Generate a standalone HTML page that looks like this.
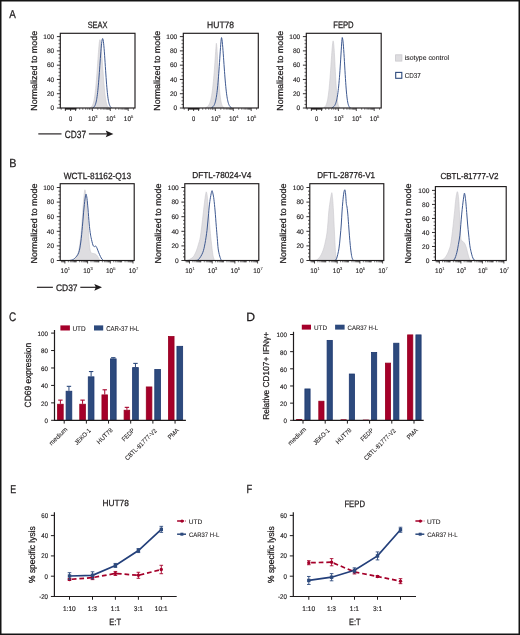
<!DOCTYPE html>
<html><head><meta charset="utf-8"><title>Figure</title>
<style>html,body{margin:0;padding:0;background:#fff;width:520px;height:635px;overflow:hidden}svg{display:block;will-change:transform}text{font-family:"Liberation Sans",sans-serif;text-rendering:geometricPrecision;stroke:#1e1b1c;stroke-width:0.25px}.lt{stroke-width:0.08px}.tk{stroke-width:0.14px}</style>
</head><body>
<svg width="520" height="635" viewBox="0 0 520 635">
<rect x="0" y="0" width="520" height="635" fill="#ffffff"/>
<g font-family='"Liberation Sans", sans-serif' fill="#1e1b1c">
<text x="9.2" y="17.9" font-size="11.45" textLength="6.57" lengthAdjust="spacingAndGlyphs">A</text>
<text x="9.34" y="167.2" font-size="11.74" textLength="7.17" lengthAdjust="spacingAndGlyphs">B</text>
<text x="9.1" y="320.68" font-size="12.39" textLength="7.22" lengthAdjust="spacingAndGlyphs">C</text>
<text x="246.32" y="320.6" font-size="12.03" textLength="8.81" lengthAdjust="spacingAndGlyphs">D</text>
<text x="10.29" y="492.8" font-size="11.45" textLength="5.93" lengthAdjust="spacingAndGlyphs">E</text>
<text x="246.55" y="492.8" font-size="11.74" textLength="5.74" lengthAdjust="spacingAndGlyphs">F</text>
<text x="87.63" y="27.66" font-size="9.15" textLength="19.83" lengthAdjust="spacingAndGlyphs">SEAX</text>
<text x="207.12" y="27.66" font-size="9.23" textLength="26.99" lengthAdjust="spacingAndGlyphs">HUT78</text>
<text x="333.19" y="27.75" font-size="9.42" textLength="20.48" lengthAdjust="spacingAndGlyphs">FEPD</text>
<rect x="64.9" y="108" width="11.6" height="1.6" fill="#1e1b1c"/>
<line x1="56.9" y1="108" x2="60.3" y2="108" stroke="#1e1b1c" stroke-width="0.9"/>
<text x="50.57" y="110.3" font-size="6.6" textLength="3.67" lengthAdjust="spacingAndGlyphs" class="tk">0</text>
<line x1="58.5" y1="104.43" x2="60.3" y2="104.43" stroke="#1e1b1c" stroke-width="0.7"/>
<line x1="58.5" y1="100.86" x2="60.3" y2="100.86" stroke="#1e1b1c" stroke-width="0.7"/>
<line x1="58.5" y1="97.29" x2="60.3" y2="97.29" stroke="#1e1b1c" stroke-width="0.7"/>
<line x1="56.9" y1="93.72" x2="60.3" y2="93.72" stroke="#1e1b1c" stroke-width="0.9"/>
<text x="46.94" y="96.02" font-size="6.6" textLength="7.34" lengthAdjust="spacingAndGlyphs" class="tk">20</text>
<line x1="58.5" y1="90.15" x2="60.3" y2="90.15" stroke="#1e1b1c" stroke-width="0.7"/>
<line x1="58.5" y1="86.58" x2="60.3" y2="86.58" stroke="#1e1b1c" stroke-width="0.7"/>
<line x1="58.5" y1="83.01" x2="60.3" y2="83.01" stroke="#1e1b1c" stroke-width="0.7"/>
<line x1="56.9" y1="79.44" x2="60.3" y2="79.44" stroke="#1e1b1c" stroke-width="0.9"/>
<text x="46.94" y="81.74" font-size="6.6" textLength="7.34" lengthAdjust="spacingAndGlyphs" class="tk">40</text>
<line x1="58.5" y1="75.87" x2="60.3" y2="75.87" stroke="#1e1b1c" stroke-width="0.7"/>
<line x1="58.5" y1="72.3" x2="60.3" y2="72.3" stroke="#1e1b1c" stroke-width="0.7"/>
<line x1="58.5" y1="68.73" x2="60.3" y2="68.73" stroke="#1e1b1c" stroke-width="0.7"/>
<line x1="56.9" y1="65.16" x2="60.3" y2="65.16" stroke="#1e1b1c" stroke-width="0.9"/>
<text x="46.94" y="67.46" font-size="6.6" textLength="7.34" lengthAdjust="spacingAndGlyphs" class="tk">60</text>
<line x1="58.5" y1="61.59" x2="60.3" y2="61.59" stroke="#1e1b1c" stroke-width="0.7"/>
<line x1="58.5" y1="58.02" x2="60.3" y2="58.02" stroke="#1e1b1c" stroke-width="0.7"/>
<line x1="58.5" y1="54.45" x2="60.3" y2="54.45" stroke="#1e1b1c" stroke-width="0.7"/>
<line x1="56.9" y1="50.88" x2="60.3" y2="50.88" stroke="#1e1b1c" stroke-width="0.9"/>
<text x="46.94" y="53.18" font-size="6.6" textLength="7.34" lengthAdjust="spacingAndGlyphs" class="tk">80</text>
<line x1="58.5" y1="47.31" x2="60.3" y2="47.31" stroke="#1e1b1c" stroke-width="0.7"/>
<line x1="58.5" y1="43.74" x2="60.3" y2="43.74" stroke="#1e1b1c" stroke-width="0.7"/>
<line x1="58.5" y1="40.17" x2="60.3" y2="40.17" stroke="#1e1b1c" stroke-width="0.7"/>
<line x1="56.9" y1="36.6" x2="60.3" y2="36.6" stroke="#1e1b1c" stroke-width="0.9"/>
<text x="43.24" y="38.9" font-size="6.6" textLength="11.01" lengthAdjust="spacingAndGlyphs" class="tk">100</text>
<line x1="70.6" y1="108" x2="70.6" y2="111" stroke="#1e1b1c" stroke-width="0.8"/>
<line x1="92.4" y1="108" x2="92.4" y2="111" stroke="#1e1b1c" stroke-width="0.8"/>
<line x1="110.3" y1="108" x2="110.3" y2="111" stroke="#1e1b1c" stroke-width="0.8"/>
<line x1="128.2" y1="108" x2="128.2" y2="111" stroke="#1e1b1c" stroke-width="0.8"/>
<line x1="65.4" y1="108" x2="65.4" y2="111" stroke="#1e1b1c" stroke-width="0.8"/>
<line x1="75.6" y1="108" x2="75.6" y2="111" stroke="#1e1b1c" stroke-width="0.8"/>
<line x1="97.79" y1="108" x2="97.79" y2="109.8" stroke="#1e1b1c" stroke-width="0.6"/>
<line x1="115.69" y1="108" x2="115.69" y2="109.8" stroke="#1e1b1c" stroke-width="0.6"/>
<line x1="133.59" y1="108" x2="133.59" y2="109.8" stroke="#1e1b1c" stroke-width="0.6"/>
<line x1="100.94" y1="108" x2="100.94" y2="109.8" stroke="#1e1b1c" stroke-width="0.6"/>
<line x1="118.84" y1="108" x2="118.84" y2="109.8" stroke="#1e1b1c" stroke-width="0.6"/>
<line x1="103.18" y1="108" x2="103.18" y2="109.8" stroke="#1e1b1c" stroke-width="0.6"/>
<line x1="121.08" y1="108" x2="121.08" y2="109.8" stroke="#1e1b1c" stroke-width="0.6"/>
<line x1="104.91" y1="108" x2="104.91" y2="109.8" stroke="#1e1b1c" stroke-width="0.6"/>
<line x1="122.81" y1="108" x2="122.81" y2="109.8" stroke="#1e1b1c" stroke-width="0.6"/>
<line x1="106.33" y1="108" x2="106.33" y2="109.8" stroke="#1e1b1c" stroke-width="0.6"/>
<line x1="124.23" y1="108" x2="124.23" y2="109.8" stroke="#1e1b1c" stroke-width="0.6"/>
<line x1="107.53" y1="108" x2="107.53" y2="109.8" stroke="#1e1b1c" stroke-width="0.6"/>
<line x1="125.43" y1="108" x2="125.43" y2="109.8" stroke="#1e1b1c" stroke-width="0.6"/>
<line x1="108.57" y1="108" x2="108.57" y2="109.8" stroke="#1e1b1c" stroke-width="0.6"/>
<line x1="126.47" y1="108" x2="126.47" y2="109.8" stroke="#1e1b1c" stroke-width="0.6"/>
<line x1="109.48" y1="108" x2="109.48" y2="109.8" stroke="#1e1b1c" stroke-width="0.6"/>
<line x1="127.38" y1="108" x2="127.38" y2="109.8" stroke="#1e1b1c" stroke-width="0.6"/>
<line x1="79.7" y1="108" x2="79.7" y2="109.8" stroke="#1e1b1c" stroke-width="0.6"/>
<line x1="82.8" y1="108" x2="82.8" y2="109.8" stroke="#1e1b1c" stroke-width="0.6"/>
<line x1="85.7" y1="108" x2="85.7" y2="109.8" stroke="#1e1b1c" stroke-width="0.6"/>
<line x1="87.8" y1="108" x2="87.8" y2="109.8" stroke="#1e1b1c" stroke-width="0.6"/>
<line x1="89.5" y1="108" x2="89.5" y2="109.8" stroke="#1e1b1c" stroke-width="0.6"/>
<line x1="91" y1="108" x2="91" y2="109.8" stroke="#1e1b1c" stroke-width="0.6"/>
<line x1="61.2" y1="108" x2="61.2" y2="109.8" stroke="#1e1b1c" stroke-width="0.6"/>
<text x="68.98" y="120.9" font-size="6.8" textLength="3.22" lengthAdjust="spacingAndGlyphs" class="tk">0</text>
<text x="88.06" y="120.9" font-size="6.7" textLength="7.23" lengthAdjust="spacingAndGlyphs" class="tk">10</text>
<text x="95.3" y="117.8" font-size="4.1" class="lt">3</text>
<text x="105.96" y="120.9" font-size="6.7" textLength="7.23" lengthAdjust="spacingAndGlyphs" class="tk">10</text>
<text x="113.2" y="117.8" font-size="4.1" class="lt">4</text>
<text x="123.86" y="120.9" font-size="6.7" textLength="7.23" lengthAdjust="spacingAndGlyphs" class="tk">10</text>
<text x="131.1" y="117.8" font-size="4.1" class="lt">5</text>
<text x="36.61" y="110.76" font-size="8.78" textLength="79.95" lengthAdjust="spacingAndGlyphs" transform="rotate(-90 36.61 110.76)">Normalized to mode</text>
<rect x="187.9" y="108" width="11.6" height="1.6" fill="#1e1b1c"/>
<line x1="179.9" y1="108" x2="183.3" y2="108" stroke="#1e1b1c" stroke-width="0.9"/>
<text x="173.57" y="110.3" font-size="6.6" textLength="3.67" lengthAdjust="spacingAndGlyphs" class="tk">0</text>
<line x1="181.5" y1="104.43" x2="183.3" y2="104.43" stroke="#1e1b1c" stroke-width="0.7"/>
<line x1="181.5" y1="100.86" x2="183.3" y2="100.86" stroke="#1e1b1c" stroke-width="0.7"/>
<line x1="181.5" y1="97.29" x2="183.3" y2="97.29" stroke="#1e1b1c" stroke-width="0.7"/>
<line x1="179.9" y1="93.72" x2="183.3" y2="93.72" stroke="#1e1b1c" stroke-width="0.9"/>
<text x="169.94" y="96.02" font-size="6.6" textLength="7.34" lengthAdjust="spacingAndGlyphs" class="tk">20</text>
<line x1="181.5" y1="90.15" x2="183.3" y2="90.15" stroke="#1e1b1c" stroke-width="0.7"/>
<line x1="181.5" y1="86.58" x2="183.3" y2="86.58" stroke="#1e1b1c" stroke-width="0.7"/>
<line x1="181.5" y1="83.01" x2="183.3" y2="83.01" stroke="#1e1b1c" stroke-width="0.7"/>
<line x1="179.9" y1="79.44" x2="183.3" y2="79.44" stroke="#1e1b1c" stroke-width="0.9"/>
<text x="169.94" y="81.74" font-size="6.6" textLength="7.34" lengthAdjust="spacingAndGlyphs" class="tk">40</text>
<line x1="181.5" y1="75.87" x2="183.3" y2="75.87" stroke="#1e1b1c" stroke-width="0.7"/>
<line x1="181.5" y1="72.3" x2="183.3" y2="72.3" stroke="#1e1b1c" stroke-width="0.7"/>
<line x1="181.5" y1="68.73" x2="183.3" y2="68.73" stroke="#1e1b1c" stroke-width="0.7"/>
<line x1="179.9" y1="65.16" x2="183.3" y2="65.16" stroke="#1e1b1c" stroke-width="0.9"/>
<text x="169.94" y="67.46" font-size="6.6" textLength="7.34" lengthAdjust="spacingAndGlyphs" class="tk">60</text>
<line x1="181.5" y1="61.59" x2="183.3" y2="61.59" stroke="#1e1b1c" stroke-width="0.7"/>
<line x1="181.5" y1="58.02" x2="183.3" y2="58.02" stroke="#1e1b1c" stroke-width="0.7"/>
<line x1="181.5" y1="54.45" x2="183.3" y2="54.45" stroke="#1e1b1c" stroke-width="0.7"/>
<line x1="179.9" y1="50.88" x2="183.3" y2="50.88" stroke="#1e1b1c" stroke-width="0.9"/>
<text x="169.94" y="53.18" font-size="6.6" textLength="7.34" lengthAdjust="spacingAndGlyphs" class="tk">80</text>
<line x1="181.5" y1="47.31" x2="183.3" y2="47.31" stroke="#1e1b1c" stroke-width="0.7"/>
<line x1="181.5" y1="43.74" x2="183.3" y2="43.74" stroke="#1e1b1c" stroke-width="0.7"/>
<line x1="181.5" y1="40.17" x2="183.3" y2="40.17" stroke="#1e1b1c" stroke-width="0.7"/>
<line x1="179.9" y1="36.6" x2="183.3" y2="36.6" stroke="#1e1b1c" stroke-width="0.9"/>
<text x="166.24" y="38.9" font-size="6.6" textLength="11.01" lengthAdjust="spacingAndGlyphs" class="tk">100</text>
<line x1="193.6" y1="108" x2="193.6" y2="111" stroke="#1e1b1c" stroke-width="0.8"/>
<line x1="215.4" y1="108" x2="215.4" y2="111" stroke="#1e1b1c" stroke-width="0.8"/>
<line x1="233.3" y1="108" x2="233.3" y2="111" stroke="#1e1b1c" stroke-width="0.8"/>
<line x1="251.2" y1="108" x2="251.2" y2="111" stroke="#1e1b1c" stroke-width="0.8"/>
<line x1="188.4" y1="108" x2="188.4" y2="111" stroke="#1e1b1c" stroke-width="0.8"/>
<line x1="198.6" y1="108" x2="198.6" y2="111" stroke="#1e1b1c" stroke-width="0.8"/>
<line x1="220.79" y1="108" x2="220.79" y2="109.8" stroke="#1e1b1c" stroke-width="0.6"/>
<line x1="238.69" y1="108" x2="238.69" y2="109.8" stroke="#1e1b1c" stroke-width="0.6"/>
<line x1="256.59" y1="108" x2="256.59" y2="109.8" stroke="#1e1b1c" stroke-width="0.6"/>
<line x1="223.94" y1="108" x2="223.94" y2="109.8" stroke="#1e1b1c" stroke-width="0.6"/>
<line x1="241.84" y1="108" x2="241.84" y2="109.8" stroke="#1e1b1c" stroke-width="0.6"/>
<line x1="226.18" y1="108" x2="226.18" y2="109.8" stroke="#1e1b1c" stroke-width="0.6"/>
<line x1="244.08" y1="108" x2="244.08" y2="109.8" stroke="#1e1b1c" stroke-width="0.6"/>
<line x1="227.91" y1="108" x2="227.91" y2="109.8" stroke="#1e1b1c" stroke-width="0.6"/>
<line x1="245.81" y1="108" x2="245.81" y2="109.8" stroke="#1e1b1c" stroke-width="0.6"/>
<line x1="229.33" y1="108" x2="229.33" y2="109.8" stroke="#1e1b1c" stroke-width="0.6"/>
<line x1="247.23" y1="108" x2="247.23" y2="109.8" stroke="#1e1b1c" stroke-width="0.6"/>
<line x1="230.53" y1="108" x2="230.53" y2="109.8" stroke="#1e1b1c" stroke-width="0.6"/>
<line x1="248.43" y1="108" x2="248.43" y2="109.8" stroke="#1e1b1c" stroke-width="0.6"/>
<line x1="231.57" y1="108" x2="231.57" y2="109.8" stroke="#1e1b1c" stroke-width="0.6"/>
<line x1="249.47" y1="108" x2="249.47" y2="109.8" stroke="#1e1b1c" stroke-width="0.6"/>
<line x1="232.48" y1="108" x2="232.48" y2="109.8" stroke="#1e1b1c" stroke-width="0.6"/>
<line x1="250.38" y1="108" x2="250.38" y2="109.8" stroke="#1e1b1c" stroke-width="0.6"/>
<line x1="202.7" y1="108" x2="202.7" y2="109.8" stroke="#1e1b1c" stroke-width="0.6"/>
<line x1="205.8" y1="108" x2="205.8" y2="109.8" stroke="#1e1b1c" stroke-width="0.6"/>
<line x1="208.7" y1="108" x2="208.7" y2="109.8" stroke="#1e1b1c" stroke-width="0.6"/>
<line x1="210.8" y1="108" x2="210.8" y2="109.8" stroke="#1e1b1c" stroke-width="0.6"/>
<line x1="212.5" y1="108" x2="212.5" y2="109.8" stroke="#1e1b1c" stroke-width="0.6"/>
<line x1="214" y1="108" x2="214" y2="109.8" stroke="#1e1b1c" stroke-width="0.6"/>
<line x1="184.2" y1="108" x2="184.2" y2="109.8" stroke="#1e1b1c" stroke-width="0.6"/>
<text x="191.98" y="120.9" font-size="6.8" textLength="3.22" lengthAdjust="spacingAndGlyphs" class="tk">0</text>
<text x="211.06" y="120.9" font-size="6.7" textLength="7.23" lengthAdjust="spacingAndGlyphs" class="tk">10</text>
<text x="218.3" y="117.8" font-size="4.1" class="lt">3</text>
<text x="228.96" y="120.9" font-size="6.7" textLength="7.23" lengthAdjust="spacingAndGlyphs" class="tk">10</text>
<text x="236.2" y="117.8" font-size="4.1" class="lt">4</text>
<text x="246.86" y="120.9" font-size="6.7" textLength="7.23" lengthAdjust="spacingAndGlyphs" class="tk">10</text>
<text x="254.1" y="117.8" font-size="4.1" class="lt">5</text>
<text x="159.61" y="110.76" font-size="8.78" textLength="79.95" lengthAdjust="spacingAndGlyphs" transform="rotate(-90 159.61 110.76)">Normalized to mode</text>
<rect x="310.9" y="108" width="11.6" height="1.6" fill="#1e1b1c"/>
<line x1="302.9" y1="108" x2="306.3" y2="108" stroke="#1e1b1c" stroke-width="0.9"/>
<text x="296.57" y="110.3" font-size="6.6" textLength="3.67" lengthAdjust="spacingAndGlyphs" class="tk">0</text>
<line x1="304.5" y1="104.43" x2="306.3" y2="104.43" stroke="#1e1b1c" stroke-width="0.7"/>
<line x1="304.5" y1="100.86" x2="306.3" y2="100.86" stroke="#1e1b1c" stroke-width="0.7"/>
<line x1="304.5" y1="97.29" x2="306.3" y2="97.29" stroke="#1e1b1c" stroke-width="0.7"/>
<line x1="302.9" y1="93.72" x2="306.3" y2="93.72" stroke="#1e1b1c" stroke-width="0.9"/>
<text x="292.94" y="96.02" font-size="6.6" textLength="7.34" lengthAdjust="spacingAndGlyphs" class="tk">20</text>
<line x1="304.5" y1="90.15" x2="306.3" y2="90.15" stroke="#1e1b1c" stroke-width="0.7"/>
<line x1="304.5" y1="86.58" x2="306.3" y2="86.58" stroke="#1e1b1c" stroke-width="0.7"/>
<line x1="304.5" y1="83.01" x2="306.3" y2="83.01" stroke="#1e1b1c" stroke-width="0.7"/>
<line x1="302.9" y1="79.44" x2="306.3" y2="79.44" stroke="#1e1b1c" stroke-width="0.9"/>
<text x="292.94" y="81.74" font-size="6.6" textLength="7.34" lengthAdjust="spacingAndGlyphs" class="tk">40</text>
<line x1="304.5" y1="75.87" x2="306.3" y2="75.87" stroke="#1e1b1c" stroke-width="0.7"/>
<line x1="304.5" y1="72.3" x2="306.3" y2="72.3" stroke="#1e1b1c" stroke-width="0.7"/>
<line x1="304.5" y1="68.73" x2="306.3" y2="68.73" stroke="#1e1b1c" stroke-width="0.7"/>
<line x1="302.9" y1="65.16" x2="306.3" y2="65.16" stroke="#1e1b1c" stroke-width="0.9"/>
<text x="292.94" y="67.46" font-size="6.6" textLength="7.34" lengthAdjust="spacingAndGlyphs" class="tk">60</text>
<line x1="304.5" y1="61.59" x2="306.3" y2="61.59" stroke="#1e1b1c" stroke-width="0.7"/>
<line x1="304.5" y1="58.02" x2="306.3" y2="58.02" stroke="#1e1b1c" stroke-width="0.7"/>
<line x1="304.5" y1="54.45" x2="306.3" y2="54.45" stroke="#1e1b1c" stroke-width="0.7"/>
<line x1="302.9" y1="50.88" x2="306.3" y2="50.88" stroke="#1e1b1c" stroke-width="0.9"/>
<text x="292.94" y="53.18" font-size="6.6" textLength="7.34" lengthAdjust="spacingAndGlyphs" class="tk">80</text>
<line x1="304.5" y1="47.31" x2="306.3" y2="47.31" stroke="#1e1b1c" stroke-width="0.7"/>
<line x1="304.5" y1="43.74" x2="306.3" y2="43.74" stroke="#1e1b1c" stroke-width="0.7"/>
<line x1="304.5" y1="40.17" x2="306.3" y2="40.17" stroke="#1e1b1c" stroke-width="0.7"/>
<line x1="302.9" y1="36.6" x2="306.3" y2="36.6" stroke="#1e1b1c" stroke-width="0.9"/>
<text x="289.24" y="38.9" font-size="6.6" textLength="11.01" lengthAdjust="spacingAndGlyphs" class="tk">100</text>
<line x1="316.6" y1="108" x2="316.6" y2="111" stroke="#1e1b1c" stroke-width="0.8"/>
<line x1="338.4" y1="108" x2="338.4" y2="111" stroke="#1e1b1c" stroke-width="0.8"/>
<line x1="356.3" y1="108" x2="356.3" y2="111" stroke="#1e1b1c" stroke-width="0.8"/>
<line x1="374.2" y1="108" x2="374.2" y2="111" stroke="#1e1b1c" stroke-width="0.8"/>
<line x1="311.4" y1="108" x2="311.4" y2="111" stroke="#1e1b1c" stroke-width="0.8"/>
<line x1="321.6" y1="108" x2="321.6" y2="111" stroke="#1e1b1c" stroke-width="0.8"/>
<line x1="343.79" y1="108" x2="343.79" y2="109.8" stroke="#1e1b1c" stroke-width="0.6"/>
<line x1="361.69" y1="108" x2="361.69" y2="109.8" stroke="#1e1b1c" stroke-width="0.6"/>
<line x1="379.59" y1="108" x2="379.59" y2="109.8" stroke="#1e1b1c" stroke-width="0.6"/>
<line x1="346.94" y1="108" x2="346.94" y2="109.8" stroke="#1e1b1c" stroke-width="0.6"/>
<line x1="364.84" y1="108" x2="364.84" y2="109.8" stroke="#1e1b1c" stroke-width="0.6"/>
<line x1="349.18" y1="108" x2="349.18" y2="109.8" stroke="#1e1b1c" stroke-width="0.6"/>
<line x1="367.08" y1="108" x2="367.08" y2="109.8" stroke="#1e1b1c" stroke-width="0.6"/>
<line x1="350.91" y1="108" x2="350.91" y2="109.8" stroke="#1e1b1c" stroke-width="0.6"/>
<line x1="368.81" y1="108" x2="368.81" y2="109.8" stroke="#1e1b1c" stroke-width="0.6"/>
<line x1="352.33" y1="108" x2="352.33" y2="109.8" stroke="#1e1b1c" stroke-width="0.6"/>
<line x1="370.23" y1="108" x2="370.23" y2="109.8" stroke="#1e1b1c" stroke-width="0.6"/>
<line x1="353.53" y1="108" x2="353.53" y2="109.8" stroke="#1e1b1c" stroke-width="0.6"/>
<line x1="371.43" y1="108" x2="371.43" y2="109.8" stroke="#1e1b1c" stroke-width="0.6"/>
<line x1="354.57" y1="108" x2="354.57" y2="109.8" stroke="#1e1b1c" stroke-width="0.6"/>
<line x1="372.47" y1="108" x2="372.47" y2="109.8" stroke="#1e1b1c" stroke-width="0.6"/>
<line x1="355.48" y1="108" x2="355.48" y2="109.8" stroke="#1e1b1c" stroke-width="0.6"/>
<line x1="373.38" y1="108" x2="373.38" y2="109.8" stroke="#1e1b1c" stroke-width="0.6"/>
<line x1="325.7" y1="108" x2="325.7" y2="109.8" stroke="#1e1b1c" stroke-width="0.6"/>
<line x1="328.8" y1="108" x2="328.8" y2="109.8" stroke="#1e1b1c" stroke-width="0.6"/>
<line x1="331.7" y1="108" x2="331.7" y2="109.8" stroke="#1e1b1c" stroke-width="0.6"/>
<line x1="333.8" y1="108" x2="333.8" y2="109.8" stroke="#1e1b1c" stroke-width="0.6"/>
<line x1="335.5" y1="108" x2="335.5" y2="109.8" stroke="#1e1b1c" stroke-width="0.6"/>
<line x1="337" y1="108" x2="337" y2="109.8" stroke="#1e1b1c" stroke-width="0.6"/>
<line x1="307.2" y1="108" x2="307.2" y2="109.8" stroke="#1e1b1c" stroke-width="0.6"/>
<text x="314.98" y="120.9" font-size="6.8" textLength="3.22" lengthAdjust="spacingAndGlyphs" class="tk">0</text>
<text x="334.06" y="120.9" font-size="6.7" textLength="7.23" lengthAdjust="spacingAndGlyphs" class="tk">10</text>
<text x="341.3" y="117.8" font-size="4.1" class="lt">3</text>
<text x="351.96" y="120.9" font-size="6.7" textLength="7.23" lengthAdjust="spacingAndGlyphs" class="tk">10</text>
<text x="359.2" y="117.8" font-size="4.1" class="lt">4</text>
<text x="369.86" y="120.9" font-size="6.7" textLength="7.23" lengthAdjust="spacingAndGlyphs" class="tk">10</text>
<text x="377.1" y="117.8" font-size="4.1" class="lt">5</text>
<text x="282.61" y="110.76" font-size="8.78" textLength="79.95" lengthAdjust="spacingAndGlyphs" transform="rotate(-90 282.61 110.76)">Normalized to mode</text>
<path d="M90.3,108 C90.4,107.87 90.76,107.39 90.9,107.23 C91.04,107.07 91.07,107.12 91.15,107.05 C91.23,106.98 91.32,106.91 91.4,106.83 C91.48,106.75 91.57,106.67 91.65,106.57 C91.73,106.48 91.82,106.38 91.9,106.26 C91.98,106.15 92.07,106.03 92.15,105.89 C92.23,105.76 92.32,105.62 92.4,105.46 C92.48,105.3 92.57,105.13 92.65,104.94 C92.73,104.76 92.82,104.56 92.9,104.34 C92.98,104.12 93.07,103.89 93.15,103.64 C93.23,103.38 93.32,103.11 93.4,102.82 C93.48,102.53 93.57,102.22 93.65,101.89 C93.73,101.55 93.82,101.19 93.9,100.81 C93.98,100.43 94.07,100.02 94.15,99.59 C94.23,99.15 94.32,98.69 94.4,98.2 C94.48,97.71 94.57,97.19 94.65,96.64 C94.73,96.09 94.82,95.51 94.9,94.9 C94.98,94.29 95.07,93.64 95.15,92.96 C95.23,92.28 95.32,91.57 95.4,90.82 C95.48,90.08 95.57,89.3 95.65,88.48 C95.73,87.67 95.82,86.82 95.9,85.93 C95.98,85.05 96.07,84.13 96.15,83.18 C96.23,82.23 96.32,81.25 96.4,80.24 C96.48,79.23 96.57,78.18 96.65,77.12 C96.73,76.05 96.82,74.95 96.9,73.83 C96.98,72.72 97.07,71.57 97.15,70.42 C97.23,69.26 97.32,68.08 97.4,66.9 C97.48,65.72 97.57,64.52 97.65,63.33 C97.73,62.14 97.82,60.93 97.9,59.75 C97.98,58.56 98.07,57.37 98.15,56.21 C98.23,55.06 98.32,53.9 98.4,52.8 C98.48,51.69 98.57,50.6 98.65,49.57 C98.73,48.54 98.82,47.53 98.9,46.61 C98.98,45.68 99.07,44.8 99.15,44.01 C99.23,43.23 99.32,42.49 99.4,41.89 C99.48,41.28 99.57,40.73 99.65,40.36 C99.73,39.99 99.82,39.73 99.9,39.67 C99.98,39.61 100.07,39.78 100.15,39.98 C100.23,40.18 100.32,40.48 100.4,40.85 C100.48,41.23 100.57,41.71 100.65,42.25 C100.73,42.8 100.82,43.44 100.9,44.13 C100.98,44.83 101.07,45.61 101.15,46.44 C101.23,47.28 101.32,48.18 101.4,49.13 C101.48,50.07 101.57,51.08 101.65,52.12 C101.73,53.16 101.82,54.26 101.9,55.37 C101.98,56.48 102.07,57.64 102.15,58.8 C102.23,59.96 102.32,61.16 102.4,62.35 C102.48,63.54 102.57,64.76 102.65,65.96 C102.73,67.16 102.82,68.38 102.9,69.57 C102.98,70.77 103.07,71.96 103.15,73.13 C103.23,74.3 103.32,75.46 103.4,76.59 C103.48,77.73 103.57,78.84 103.65,79.92 C103.73,81 103.82,82.06 103.9,83.08 C103.98,84.1 104.07,85.09 104.15,86.04 C104.23,86.99 104.32,87.91 104.4,88.79 C104.48,89.67 104.57,90.51 104.65,91.32 C104.73,92.12 104.82,92.89 104.9,93.62 C104.98,94.35 105.07,95.04 105.15,95.69 C105.23,96.34 105.32,96.96 105.4,97.54 C105.48,98.12 105.57,98.66 105.65,99.17 C105.73,99.69 105.82,100.16 105.9,100.61 C105.98,101.05 106.07,101.46 106.15,101.85 C106.23,102.24 106.32,102.59 106.4,102.92 C106.48,103.25 106.57,103.55 106.65,103.84 C106.73,104.12 106.82,104.37 106.9,104.61 C106.98,104.85 107.07,105.06 107.15,105.26 C107.23,105.46 107.32,105.64 107.4,105.8 C107.48,105.96 107.57,106.11 107.65,106.25 C107.73,106.38 107.82,106.5 107.9,106.61 C107.98,106.72 108.07,106.82 108.15,106.91 C108.23,107 108.32,107.08 108.4,107.15 C108.48,107.22 108.51,107.2 108.65,107.34 C108.79,107.48 109.15,107.89 109.25,108 L109.25,108 L90.3,108 Z" fill="#dedde0" stroke="#c9c8cc" stroke-width="0.6"/>
<path d="M93,108 C93.1,107.87 93.46,107.41 93.6,107.25 C93.74,107.09 93.77,107.12 93.85,107.05 C93.93,106.98 94.02,106.9 94.1,106.81 C94.18,106.72 94.27,106.62 94.35,106.51 C94.43,106.41 94.52,106.29 94.6,106.16 C94.68,106.03 94.77,105.89 94.85,105.73 C94.93,105.57 95.02,105.4 95.1,105.22 C95.18,105.03 95.27,104.83 95.35,104.61 C95.43,104.39 95.52,104.15 95.6,103.89 C95.68,103.63 95.77,103.36 95.85,103.05 C95.93,102.75 96.02,102.43 96.1,102.08 C96.18,101.73 96.27,101.35 96.35,100.95 C96.43,100.55 96.52,100.12 96.6,99.66 C96.68,99.2 96.77,98.71 96.85,98.19 C96.93,97.67 97.02,97.12 97.1,96.53 C97.18,95.95 97.27,95.33 97.35,94.68 C97.43,94.02 97.52,93.34 97.6,92.61 C97.68,91.89 97.77,91.13 97.85,90.34 C97.93,89.55 98.02,88.72 98.1,87.85 C98.18,86.99 98.27,86.09 98.35,85.16 C98.43,84.23 98.52,83.26 98.6,82.27 C98.68,81.27 98.77,80.24 98.85,79.19 C98.93,78.14 99.02,77.06 99.1,75.95 C99.18,74.85 99.27,73.72 99.35,72.58 C99.43,71.44 99.52,70.27 99.6,69.1 C99.68,67.93 99.77,66.74 99.85,65.56 C99.93,64.38 100.02,63.18 100.1,62.01 C100.18,60.83 100.27,59.64 100.35,58.49 C100.43,57.33 100.52,56.17 100.6,55.06 C100.68,53.94 100.77,52.84 100.85,51.78 C100.93,50.72 101.02,49.69 101.1,48.72 C101.18,47.75 101.27,46.81 101.35,45.94 C101.43,45.07 101.52,44.25 101.6,43.5 C101.68,42.76 101.77,42.08 101.85,41.48 C101.93,40.88 102.02,40.35 102.1,39.93 C102.18,39.5 102.27,39.15 102.35,38.91 C102.43,38.68 102.52,38.54 102.6,38.53 C102.68,38.52 102.77,38.64 102.85,38.85 C102.93,39.06 103.02,39.38 103.1,39.78 C103.18,40.19 103.27,40.69 103.35,41.28 C103.43,41.86 103.52,42.54 103.6,43.28 C103.68,44.03 103.77,44.86 103.85,45.75 C103.93,46.64 104.02,47.61 104.1,48.62 C104.18,49.63 104.27,50.71 104.35,51.82 C104.43,52.93 104.52,54.09 104.6,55.28 C104.68,56.46 104.77,57.69 104.85,58.92 C104.93,60.16 105.02,61.42 105.1,62.68 C105.18,63.94 105.27,65.22 105.35,66.49 C105.43,67.76 105.52,69.03 105.6,70.28 C105.68,71.53 105.77,72.78 105.85,74 C105.93,75.22 106.02,76.42 106.1,77.59 C106.18,78.76 106.27,79.91 106.35,81.02 C106.43,82.13 106.52,83.21 106.6,84.25 C106.68,85.29 106.77,86.3 106.85,87.26 C106.93,88.22 107.02,89.15 107.1,90.03 C107.18,90.91 107.27,91.75 107.35,92.55 C107.43,93.35 107.52,94.1 107.6,94.82 C107.68,95.54 107.77,96.21 107.85,96.84 C107.93,97.48 108.02,98.07 108.1,98.63 C108.18,99.19 108.27,99.71 108.35,100.19 C108.43,100.68 108.52,101.13 108.6,101.55 C108.68,101.96 108.77,102.35 108.85,102.7 C108.93,103.06 109.02,103.39 109.1,103.69 C109.18,103.99 109.27,104.26 109.35,104.52 C109.43,104.77 109.52,105 109.6,105.21 C109.68,105.42 109.77,105.61 109.85,105.78 C109.93,105.95 110.02,106.11 110.1,106.25 C110.18,106.39 110.27,106.51 110.35,106.63 C110.43,106.74 110.52,106.84 110.6,106.93 C110.68,107.02 110.71,107 110.85,107.18 C110.99,107.35 111.35,107.86 111.45,108" fill="none" stroke="#34508a" stroke-width="0.95" stroke-linejoin="round"/>
<path d="M205.55,108 C205.65,107.89 206.01,107.47 206.15,107.34 C206.29,107.22 206.32,107.28 206.4,107.24 C206.48,107.2 206.57,107.16 206.65,107.12 C206.73,107.07 206.82,107.03 206.9,106.98 C206.98,106.93 207.07,106.87 207.15,106.82 C207.23,106.76 207.32,106.7 207.4,106.63 C207.48,106.57 207.57,106.5 207.65,106.42 C207.73,106.35 207.82,106.27 207.9,106.18 C207.98,106.1 208.07,106.01 208.15,105.91 C208.23,105.81 208.32,105.71 208.4,105.6 C208.48,105.49 208.57,105.37 208.65,105.25 C208.73,105.12 208.82,104.99 208.9,104.85 C208.98,104.7 209.07,104.55 209.15,104.39 C209.23,104.23 209.32,104.06 209.4,103.88 C209.48,103.7 209.57,103.51 209.65,103.31 C209.73,103.1 209.82,102.89 209.9,102.66 C209.98,102.43 210.07,102.19 210.15,101.93 C210.23,101.67 210.32,101.4 210.4,101.11 C210.48,100.83 210.57,100.52 210.65,100.2 C210.73,99.88 210.82,99.55 210.9,99.19 C210.98,98.83 211.07,98.46 211.15,98.06 C211.23,97.66 211.32,97.25 211.4,96.81 C211.48,96.37 211.57,95.91 211.65,95.43 C211.73,94.94 211.82,94.44 211.9,93.9 C211.98,93.37 212.07,92.81 212.15,92.23 C212.23,91.64 212.32,91.03 212.4,90.39 C212.48,89.75 212.57,89.08 212.65,88.39 C212.73,87.69 212.82,86.96 212.9,86.21 C212.98,85.45 213.07,84.66 213.15,83.85 C213.23,83.03 213.32,82.18 213.4,81.3 C213.48,80.42 213.57,79.51 213.65,78.57 C213.73,77.63 213.82,76.66 213.9,75.65 C213.98,74.65 214.07,73.62 214.15,72.56 C214.23,71.51 214.32,70.42 214.4,69.31 C214.48,68.2 214.57,67.06 214.65,65.91 C214.73,64.76 214.82,63.58 214.9,62.39 C214.98,61.21 215.07,60 215.15,58.8 C215.23,57.61 215.32,56.39 215.4,55.2 C215.48,54.01 215.57,52.8 215.65,51.65 C215.73,50.5 215.82,49.35 215.9,48.3 C215.98,47.24 216.07,46.16 216.15,45.33 C216.23,44.5 216.32,43.36 216.4,43.31 C216.48,43.26 216.57,44.22 216.65,45.02 C216.73,45.82 216.82,46.96 216.9,48.11 C216.98,49.27 217.07,50.6 217.15,51.96 C217.23,53.31 217.32,54.77 217.4,56.23 C217.48,57.69 217.57,59.21 217.65,60.71 C217.73,62.22 217.82,63.75 217.9,65.25 C217.98,66.75 218.07,68.25 218.15,69.71 C218.23,71.17 218.32,72.61 218.4,74 C218.48,75.39 218.57,76.75 218.65,78.06 C218.73,79.36 218.82,80.62 218.9,81.83 C218.98,83.04 219.07,84.2 219.15,85.3 C219.23,86.4 219.32,87.45 219.4,88.44 C219.48,89.44 219.57,90.38 219.65,91.26 C219.73,92.15 219.82,92.99 219.9,93.77 C219.98,94.56 220.07,95.29 220.15,95.98 C220.23,96.67 220.32,97.31 220.4,97.91 C220.48,98.5 220.57,99.06 220.65,99.57 C220.73,100.09 220.82,100.56 220.9,101.01 C220.98,101.45 221.07,101.85 221.15,102.23 C221.23,102.6 221.32,102.94 221.4,103.26 C221.48,103.58 221.57,103.86 221.65,104.13 C221.73,104.39 221.82,104.63 221.9,104.86 C221.98,105.08 222.07,105.27 222.15,105.46 C222.23,105.64 222.32,105.8 222.4,105.96 C222.48,106.11 222.57,106.24 222.65,106.36 C222.73,106.49 222.82,106.6 222.9,106.7 C222.98,106.8 223.07,106.89 223.15,106.97 C223.23,107.05 223.26,107.01 223.4,107.18 C223.54,107.36 223.9,107.86 224,108 L224,108 L205.55,108 Z" fill="#dedde0" stroke="#c9c8cc" stroke-width="0.6"/>
<path d="M211.4,108 C211.5,107.89 211.86,107.48 212,107.35 C212.14,107.22 212.17,107.27 212.25,107.22 C212.33,107.17 212.42,107.12 212.5,107.06 C212.58,107.01 212.67,106.95 212.75,106.88 C212.83,106.81 212.92,106.74 213,106.66 C213.08,106.58 213.17,106.5 213.25,106.4 C213.33,106.31 213.42,106.21 213.5,106.1 C213.58,105.99 213.67,105.88 213.75,105.75 C213.83,105.62 213.92,105.49 214,105.34 C214.08,105.19 214.17,105.03 214.25,104.86 C214.33,104.69 214.42,104.51 214.5,104.31 C214.58,104.11 214.67,103.9 214.75,103.68 C214.83,103.45 214.92,103.21 215,102.95 C215.08,102.69 215.17,102.41 215.25,102.12 C215.33,101.82 215.42,101.51 215.5,101.17 C215.58,100.83 215.67,100.48 215.75,100.1 C215.83,99.71 215.92,99.31 216,98.88 C216.08,98.45 216.17,98 216.25,97.52 C216.33,97.03 216.42,96.53 216.5,95.99 C216.58,95.45 216.67,94.88 216.75,94.28 C216.83,93.69 216.92,93.06 217,92.4 C217.08,91.73 217.17,91.04 217.25,90.31 C217.33,89.58 217.42,88.82 217.5,88.02 C217.58,87.23 217.67,86.4 217.75,85.53 C217.83,84.66 217.92,83.76 218,82.82 C218.08,81.89 218.17,80.91 218.25,79.91 C218.33,78.9 218.42,77.86 218.5,76.79 C218.58,75.72 218.67,74.61 218.75,73.48 C218.83,72.35 218.92,71.18 219,70 C219.08,68.81 219.17,67.6 219.25,66.37 C219.33,65.14 219.42,63.88 219.5,62.62 C219.58,61.37 219.67,60.08 219.75,58.81 C219.83,57.54 219.92,56.25 220,54.99 C220.08,53.72 220.17,52.45 220.25,51.22 C220.33,49.99 220.42,48.76 220.5,47.6 C220.58,46.43 220.67,45.29 220.75,44.23 C220.83,43.17 220.92,42.15 221,41.26 C221.08,40.37 221.17,39.51 221.25,38.9 C221.33,38.29 221.42,37.7 221.5,37.6 C221.58,37.5 221.67,37.91 221.75,38.27 C221.83,38.63 221.92,39.17 222,39.76 C222.08,40.35 222.17,41.07 222.25,41.84 C222.33,42.61 222.42,43.47 222.5,44.38 C222.58,45.29 222.67,46.27 222.75,47.28 C222.83,48.3 222.92,49.37 223,50.46 C223.08,51.55 223.17,52.69 223.25,53.84 C223.33,54.98 223.42,56.16 223.5,57.34 C223.58,58.52 223.67,59.71 223.75,60.9 C223.83,62.09 223.92,63.29 224,64.47 C224.08,65.66 224.17,66.84 224.25,68 C224.33,69.17 224.42,70.32 224.5,71.45 C224.58,72.58 224.67,73.69 224.75,74.78 C224.83,75.87 224.92,76.93 225,77.97 C225.08,79 225.17,80.01 225.25,80.99 C225.33,81.97 225.42,82.91 225.5,83.83 C225.58,84.74 225.67,85.63 225.75,86.48 C225.83,87.33 225.92,88.14 226,88.93 C226.08,89.71 226.17,90.46 226.25,91.18 C226.33,91.9 226.42,92.58 226.5,93.24 C226.58,93.89 226.67,94.51 226.75,95.1 C226.83,95.69 226.92,96.25 227,96.79 C227.08,97.32 227.17,97.82 227.25,98.29 C227.33,98.77 227.42,99.21 227.5,99.63 C227.58,100.05 227.67,100.45 227.75,100.82 C227.83,101.19 227.92,101.54 228,101.87 C228.08,102.19 228.17,102.5 228.25,102.78 C228.33,103.07 228.42,103.33 228.5,103.58 C228.58,103.83 228.67,104.06 228.75,104.27 C228.83,104.49 228.92,104.68 229,104.87 C229.08,105.05 229.17,105.22 229.25,105.38 C229.33,105.54 229.42,105.68 229.5,105.82 C229.58,105.95 229.67,106.07 229.75,106.19 C229.83,106.3 229.92,106.41 230,106.5 C230.08,106.6 230.17,106.69 230.25,106.77 C230.33,106.85 230.42,106.92 230.5,106.99 C230.58,107.06 230.67,107.12 230.75,107.17 C230.83,107.23 230.86,107.19 231,107.33 C231.14,107.47 231.5,107.89 231.6,108" fill="none" stroke="#34508a" stroke-width="0.95" stroke-linejoin="round"/>
<path d="M323.75,108 C323.85,107.87 324.21,107.37 324.35,107.21 C324.49,107.05 324.52,107.09 324.6,107.03 C324.68,106.96 324.77,106.89 324.85,106.81 C324.93,106.73 325.02,106.65 325.1,106.55 C325.18,106.46 325.27,106.36 325.35,106.24 C325.43,106.13 325.52,106.01 325.6,105.88 C325.68,105.74 325.77,105.6 325.85,105.44 C325.93,105.29 326.02,105.12 326.1,104.93 C326.18,104.75 326.27,104.55 326.35,104.34 C326.43,104.12 326.52,103.89 326.6,103.65 C326.68,103.4 326.77,103.13 326.85,102.84 C326.93,102.55 327.02,102.25 327.1,101.91 C327.18,101.58 327.27,101.23 327.35,100.85 C327.43,100.47 327.52,100.07 327.6,99.64 C327.68,99.21 327.77,98.76 327.85,98.27 C327.93,97.78 328.02,97.27 328.1,96.72 C328.18,96.17 328.27,95.6 328.35,94.99 C328.43,94.37 328.52,93.73 328.6,93.05 C328.68,92.38 328.77,91.66 328.85,90.92 C328.93,90.17 329.02,89.39 329.1,88.57 C329.18,87.75 329.27,86.9 329.35,86.01 C329.43,85.12 329.52,84.2 329.6,83.24 C329.68,82.28 329.77,81.29 329.85,80.26 C329.93,79.24 330.02,78.18 330.1,77.1 C330.18,76.01 330.27,74.9 330.35,73.76 C330.43,72.62 330.52,71.46 330.6,70.28 C330.68,69.1 330.77,67.9 330.85,66.69 C330.93,65.48 331.02,64.25 331.1,63.03 C331.18,61.81 331.27,60.58 331.35,59.37 C331.43,58.16 331.52,56.94 331.6,55.76 C331.68,54.58 331.77,53.41 331.85,52.28 C331.93,51.16 332.02,50.06 332.1,49.03 C332.18,48 332.27,47 332.35,46.1 C332.43,45.2 332.52,44.35 332.6,43.63 C332.68,42.91 332.77,42.24 332.85,41.78 C332.93,41.33 333.02,40.94 333.1,40.88 C333.18,40.83 333.27,41.08 333.35,41.43 C333.43,41.79 333.52,42.33 333.6,43 C333.68,43.67 333.77,44.52 333.85,45.48 C333.93,46.44 334.02,47.55 334.1,48.75 C334.18,49.95 334.27,51.28 334.35,52.66 C334.43,54.05 334.52,55.54 334.6,57.07 C334.68,58.59 334.77,60.19 334.85,61.79 C334.93,63.39 335.02,65.04 335.1,66.67 C335.18,68.3 335.27,69.95 335.35,71.56 C335.43,73.17 335.52,74.77 335.6,76.32 C335.68,77.87 335.77,79.39 335.85,80.85 C335.93,82.31 336.02,83.72 336.1,85.06 C336.18,86.39 336.27,87.67 336.35,88.88 C336.43,90.08 336.52,91.22 336.6,92.29 C336.68,93.35 336.77,94.34 336.85,95.27 C336.93,96.19 337.02,97.04 337.1,97.82 C337.18,98.61 337.27,99.32 337.35,99.98 C337.43,100.64 337.52,101.22 337.6,101.76 C337.68,102.3 337.77,102.78 337.85,103.22 C337.93,103.66 338.02,104.04 338.1,104.38 C338.18,104.73 338.27,105.03 338.35,105.3 C338.43,105.58 338.52,105.81 338.6,106.02 C338.68,106.23 338.77,106.4 338.85,106.56 C338.93,106.72 339.02,106.85 339.1,106.97 C339.18,107.09 339.21,107.1 339.35,107.27 C339.49,107.44 339.85,107.88 339.95,108 L339.95,108 L323.75,108 Z" fill="#dedde0" stroke="#c9c8cc" stroke-width="0.6"/>
<path d="M332.1,108 C332.2,107.88 332.56,107.41 332.7,107.27 C332.84,107.12 332.87,107.18 332.95,107.14 C333.03,107.09 333.12,107.04 333.2,106.98 C333.28,106.93 333.37,106.87 333.45,106.81 C333.53,106.74 333.62,106.68 333.7,106.6 C333.78,106.53 333.87,106.45 333.95,106.36 C334.03,106.28 334.12,106.19 334.2,106.09 C334.28,105.99 334.37,105.89 334.45,105.77 C334.53,105.66 334.62,105.54 334.7,105.41 C334.78,105.28 334.87,105.14 334.95,104.99 C335.03,104.84 335.12,104.68 335.2,104.51 C335.28,104.34 335.37,104.16 335.45,103.96 C335.53,103.76 335.62,103.56 335.7,103.33 C335.78,103.11 335.87,102.88 335.95,102.62 C336.03,102.37 336.12,102.1 336.2,101.81 C336.28,101.53 336.37,101.23 336.45,100.9 C336.53,100.58 336.62,100.24 336.7,99.87 C336.78,99.51 336.87,99.12 336.95,98.71 C337.03,98.3 337.12,97.87 337.2,97.41 C337.28,96.95 337.37,96.47 337.45,95.96 C337.53,95.45 337.62,94.91 337.7,94.34 C337.78,93.77 337.87,93.18 337.95,92.55 C338.03,91.92 338.12,91.26 338.2,90.56 C338.28,89.87 338.37,89.14 338.45,88.38 C338.53,87.61 338.62,86.81 338.7,85.98 C338.78,85.14 338.87,84.27 338.95,83.36 C339.03,82.46 339.12,81.51 339.2,80.53 C339.28,79.54 339.37,78.52 339.45,77.46 C339.53,76.4 339.62,75.31 339.7,74.17 C339.78,73.04 339.87,71.87 339.95,70.67 C340.03,69.47 340.12,68.23 340.2,66.97 C340.28,65.71 340.37,64.41 340.45,63.09 C340.53,61.78 340.62,60.43 340.7,59.08 C340.78,57.73 340.87,56.35 340.95,54.98 C341.03,53.61 341.12,52.23 341.2,50.87 C341.28,49.52 341.37,48.15 341.45,46.85 C341.53,45.55 341.62,44.25 341.7,43.07 C341.78,41.88 341.87,40.68 341.95,39.77 C342.03,38.86 342.12,37.9 342.2,37.6 C342.28,37.3 342.37,37.73 342.45,37.97 C342.53,38.21 342.62,38.58 342.7,39.06 C342.78,39.54 342.87,40.14 342.95,40.83 C343.03,41.53 343.12,42.34 343.2,43.23 C343.28,44.12 343.37,45.11 343.45,46.17 C343.53,47.23 343.62,48.39 343.7,49.59 C343.78,50.79 343.87,52.07 343.95,53.37 C344.03,54.68 344.12,56.05 344.2,57.43 C344.28,58.81 344.37,60.24 344.45,61.66 C344.53,63.09 344.62,64.54 344.7,65.97 C344.78,67.4 344.87,68.85 344.95,70.26 C345.03,71.68 345.12,73.09 345.2,74.46 C345.28,75.83 345.37,77.18 345.45,78.49 C345.53,79.8 345.62,81.07 345.7,82.3 C345.78,83.52 345.87,84.71 345.95,85.84 C346.03,86.97 346.12,88.06 346.2,89.09 C346.28,90.12 346.37,91.1 346.45,92.02 C346.53,92.95 346.62,93.82 346.7,94.64 C346.78,95.45 346.87,96.22 346.95,96.93 C347.03,97.65 347.12,98.31 347.2,98.93 C347.28,99.55 347.37,100.11 347.45,100.64 C347.53,101.17 347.62,101.64 347.7,102.09 C347.78,102.53 347.87,102.93 347.95,103.3 C348.03,103.67 348.12,104 348.2,104.3 C348.28,104.6 348.37,104.87 348.45,105.11 C348.53,105.36 348.62,105.58 348.7,105.77 C348.78,105.97 348.87,106.14 348.95,106.3 C349.03,106.46 349.12,106.59 349.2,106.71 C349.28,106.84 349.37,106.94 349.45,107.04 C349.53,107.13 349.56,107.13 349.7,107.29 C349.84,107.45 350.2,107.88 350.3,108" fill="none" stroke="#34508a" stroke-width="0.95" stroke-linejoin="round"/>
<rect x="60.3" y="33.3" width="74.7" height="74.7" fill="none" stroke="#1e1b1c" stroke-width="1.15"/>
<rect x="183.3" y="33.3" width="75" height="74.7" fill="none" stroke="#1e1b1c" stroke-width="1.15"/>
<rect x="306.3" y="33.3" width="74.9" height="74.7" fill="none" stroke="#1e1b1c" stroke-width="1.15"/>
<rect x="395.6" y="54.8" width="6.3" height="6.3" fill="#dedde0" stroke="#c9c8cc" stroke-width="0.8"/>
<text x="404.72" y="59.8" font-size="7" textLength="44.35" lengthAdjust="spacingAndGlyphs" class="lt">isotype control</text>
<rect x="395.7" y="72.4" width="6.1" height="5.9" fill="none" stroke="#2d4a7d" stroke-width="1.1"/>
<text x="404.68" y="77.63" font-size="7.18" textLength="16.21" lengthAdjust="spacingAndGlyphs" class="lt">CD37</text>
<line x1="38.3" y1="133.9" x2="61.5" y2="133.9" stroke="#1e1b1c" stroke-width="1.15"/>
<text x="64.78" y="137.5" font-size="10.42" textLength="21.41" lengthAdjust="spacingAndGlyphs">CD37</text>
<line x1="88.9" y1="133.9" x2="107.4" y2="133.9" stroke="#1e1b1c" stroke-width="1.15"/>
<path d="M113.4,133.9 L105.7,130.5 L107.2,133.9 L105.7,137.3 Z" fill="#1e1b1c"/>
<text x="63.72" y="178.5" font-size="9" textLength="67.36" lengthAdjust="spacingAndGlyphs">WCTL-81162-Q13</text>
<text x="192.24" y="178.41" font-size="8.73" textLength="59.11" lengthAdjust="spacingAndGlyphs">DFTL-78024-V4</text>
<text x="317.26" y="178.41" font-size="8.73" textLength="57.75" lengthAdjust="spacingAndGlyphs">DFTL-28776-V1</text>
<text x="440.4" y="178.51" font-size="8.73" textLength="58.17" lengthAdjust="spacingAndGlyphs">CBTL-81777-V2</text>
<line x1="56.8" y1="260.5" x2="60.2" y2="260.5" stroke="#1e1b1c" stroke-width="0.9"/>
<text x="50.47" y="262.8" font-size="6.6" textLength="3.67" lengthAdjust="spacingAndGlyphs" class="tk">0</text>
<line x1="58.4" y1="256.85" x2="60.2" y2="256.85" stroke="#1e1b1c" stroke-width="0.7"/>
<line x1="58.4" y1="253.2" x2="60.2" y2="253.2" stroke="#1e1b1c" stroke-width="0.7"/>
<line x1="58.4" y1="249.55" x2="60.2" y2="249.55" stroke="#1e1b1c" stroke-width="0.7"/>
<line x1="56.8" y1="245.9" x2="60.2" y2="245.9" stroke="#1e1b1c" stroke-width="0.9"/>
<text x="46.84" y="248.2" font-size="6.6" textLength="7.34" lengthAdjust="spacingAndGlyphs" class="tk">20</text>
<line x1="58.4" y1="242.25" x2="60.2" y2="242.25" stroke="#1e1b1c" stroke-width="0.7"/>
<line x1="58.4" y1="238.6" x2="60.2" y2="238.6" stroke="#1e1b1c" stroke-width="0.7"/>
<line x1="58.4" y1="234.95" x2="60.2" y2="234.95" stroke="#1e1b1c" stroke-width="0.7"/>
<line x1="56.8" y1="231.3" x2="60.2" y2="231.3" stroke="#1e1b1c" stroke-width="0.9"/>
<text x="46.84" y="233.6" font-size="6.6" textLength="7.34" lengthAdjust="spacingAndGlyphs" class="tk">40</text>
<line x1="58.4" y1="227.65" x2="60.2" y2="227.65" stroke="#1e1b1c" stroke-width="0.7"/>
<line x1="58.4" y1="224" x2="60.2" y2="224" stroke="#1e1b1c" stroke-width="0.7"/>
<line x1="58.4" y1="220.35" x2="60.2" y2="220.35" stroke="#1e1b1c" stroke-width="0.7"/>
<line x1="56.8" y1="216.7" x2="60.2" y2="216.7" stroke="#1e1b1c" stroke-width="0.9"/>
<text x="46.84" y="219" font-size="6.6" textLength="7.34" lengthAdjust="spacingAndGlyphs" class="tk">60</text>
<line x1="58.4" y1="213.05" x2="60.2" y2="213.05" stroke="#1e1b1c" stroke-width="0.7"/>
<line x1="58.4" y1="209.4" x2="60.2" y2="209.4" stroke="#1e1b1c" stroke-width="0.7"/>
<line x1="58.4" y1="205.75" x2="60.2" y2="205.75" stroke="#1e1b1c" stroke-width="0.7"/>
<line x1="56.8" y1="202.1" x2="60.2" y2="202.1" stroke="#1e1b1c" stroke-width="0.9"/>
<text x="46.84" y="204.4" font-size="6.6" textLength="7.34" lengthAdjust="spacingAndGlyphs" class="tk">80</text>
<line x1="58.4" y1="198.45" x2="60.2" y2="198.45" stroke="#1e1b1c" stroke-width="0.7"/>
<line x1="58.4" y1="194.8" x2="60.2" y2="194.8" stroke="#1e1b1c" stroke-width="0.7"/>
<line x1="58.4" y1="191.15" x2="60.2" y2="191.15" stroke="#1e1b1c" stroke-width="0.7"/>
<line x1="56.8" y1="187.5" x2="60.2" y2="187.5" stroke="#1e1b1c" stroke-width="0.9"/>
<text x="43.14" y="189.8" font-size="6.6" textLength="11.01" lengthAdjust="spacingAndGlyphs" class="tk">100</text>
<line x1="64.9" y1="260.5" x2="64.9" y2="263.5" stroke="#1e1b1c" stroke-width="0.8"/>
<line x1="87.6" y1="260.5" x2="87.6" y2="263.5" stroke="#1e1b1c" stroke-width="0.8"/>
<line x1="110.3" y1="260.5" x2="110.3" y2="263.5" stroke="#1e1b1c" stroke-width="0.8"/>
<line x1="133" y1="260.5" x2="133" y2="263.5" stroke="#1e1b1c" stroke-width="0.8"/>
<line x1="61.48" y1="260.5" x2="61.48" y2="262.3" stroke="#1e1b1c" stroke-width="0.6"/>
<line x1="62.38" y1="260.5" x2="62.38" y2="262.3" stroke="#1e1b1c" stroke-width="0.6"/>
<line x1="63.14" y1="260.5" x2="63.14" y2="262.3" stroke="#1e1b1c" stroke-width="0.6"/>
<line x1="63.8" y1="260.5" x2="63.8" y2="262.3" stroke="#1e1b1c" stroke-width="0.6"/>
<line x1="64.38" y1="260.5" x2="64.38" y2="262.3" stroke="#1e1b1c" stroke-width="0.6"/>
<line x1="68.32" y1="260.5" x2="68.32" y2="262.3" stroke="#1e1b1c" stroke-width="0.6"/>
<line x1="70.32" y1="260.5" x2="70.32" y2="262.3" stroke="#1e1b1c" stroke-width="0.6"/>
<line x1="71.73" y1="260.5" x2="71.73" y2="262.3" stroke="#1e1b1c" stroke-width="0.6"/>
<line x1="72.83" y1="260.5" x2="72.83" y2="262.3" stroke="#1e1b1c" stroke-width="0.6"/>
<line x1="73.73" y1="260.5" x2="73.73" y2="262.3" stroke="#1e1b1c" stroke-width="0.6"/>
<line x1="74.49" y1="260.5" x2="74.49" y2="262.3" stroke="#1e1b1c" stroke-width="0.6"/>
<line x1="75.15" y1="260.5" x2="75.15" y2="262.3" stroke="#1e1b1c" stroke-width="0.6"/>
<line x1="75.73" y1="260.5" x2="75.73" y2="262.3" stroke="#1e1b1c" stroke-width="0.6"/>
<line x1="76.25" y1="260.5" x2="76.25" y2="262.3" stroke="#1e1b1c" stroke-width="0.6"/>
<line x1="79.67" y1="260.5" x2="79.67" y2="262.3" stroke="#1e1b1c" stroke-width="0.6"/>
<line x1="81.67" y1="260.5" x2="81.67" y2="262.3" stroke="#1e1b1c" stroke-width="0.6"/>
<line x1="83.08" y1="260.5" x2="83.08" y2="262.3" stroke="#1e1b1c" stroke-width="0.6"/>
<line x1="84.18" y1="260.5" x2="84.18" y2="262.3" stroke="#1e1b1c" stroke-width="0.6"/>
<line x1="85.08" y1="260.5" x2="85.08" y2="262.3" stroke="#1e1b1c" stroke-width="0.6"/>
<line x1="85.84" y1="260.5" x2="85.84" y2="262.3" stroke="#1e1b1c" stroke-width="0.6"/>
<line x1="86.5" y1="260.5" x2="86.5" y2="262.3" stroke="#1e1b1c" stroke-width="0.6"/>
<line x1="87.08" y1="260.5" x2="87.08" y2="262.3" stroke="#1e1b1c" stroke-width="0.6"/>
<line x1="91.02" y1="260.5" x2="91.02" y2="262.3" stroke="#1e1b1c" stroke-width="0.6"/>
<line x1="93.02" y1="260.5" x2="93.02" y2="262.3" stroke="#1e1b1c" stroke-width="0.6"/>
<line x1="94.43" y1="260.5" x2="94.43" y2="262.3" stroke="#1e1b1c" stroke-width="0.6"/>
<line x1="95.53" y1="260.5" x2="95.53" y2="262.3" stroke="#1e1b1c" stroke-width="0.6"/>
<line x1="96.43" y1="260.5" x2="96.43" y2="262.3" stroke="#1e1b1c" stroke-width="0.6"/>
<line x1="97.19" y1="260.5" x2="97.19" y2="262.3" stroke="#1e1b1c" stroke-width="0.6"/>
<line x1="97.85" y1="260.5" x2="97.85" y2="262.3" stroke="#1e1b1c" stroke-width="0.6"/>
<line x1="98.43" y1="260.5" x2="98.43" y2="262.3" stroke="#1e1b1c" stroke-width="0.6"/>
<line x1="98.95" y1="260.5" x2="98.95" y2="262.3" stroke="#1e1b1c" stroke-width="0.6"/>
<line x1="102.37" y1="260.5" x2="102.37" y2="262.3" stroke="#1e1b1c" stroke-width="0.6"/>
<line x1="104.37" y1="260.5" x2="104.37" y2="262.3" stroke="#1e1b1c" stroke-width="0.6"/>
<line x1="105.78" y1="260.5" x2="105.78" y2="262.3" stroke="#1e1b1c" stroke-width="0.6"/>
<line x1="106.88" y1="260.5" x2="106.88" y2="262.3" stroke="#1e1b1c" stroke-width="0.6"/>
<line x1="107.78" y1="260.5" x2="107.78" y2="262.3" stroke="#1e1b1c" stroke-width="0.6"/>
<line x1="108.54" y1="260.5" x2="108.54" y2="262.3" stroke="#1e1b1c" stroke-width="0.6"/>
<line x1="109.2" y1="260.5" x2="109.2" y2="262.3" stroke="#1e1b1c" stroke-width="0.6"/>
<line x1="109.78" y1="260.5" x2="109.78" y2="262.3" stroke="#1e1b1c" stroke-width="0.6"/>
<line x1="113.72" y1="260.5" x2="113.72" y2="262.3" stroke="#1e1b1c" stroke-width="0.6"/>
<line x1="115.72" y1="260.5" x2="115.72" y2="262.3" stroke="#1e1b1c" stroke-width="0.6"/>
<line x1="117.13" y1="260.5" x2="117.13" y2="262.3" stroke="#1e1b1c" stroke-width="0.6"/>
<line x1="118.23" y1="260.5" x2="118.23" y2="262.3" stroke="#1e1b1c" stroke-width="0.6"/>
<line x1="119.13" y1="260.5" x2="119.13" y2="262.3" stroke="#1e1b1c" stroke-width="0.6"/>
<line x1="119.89" y1="260.5" x2="119.89" y2="262.3" stroke="#1e1b1c" stroke-width="0.6"/>
<line x1="120.55" y1="260.5" x2="120.55" y2="262.3" stroke="#1e1b1c" stroke-width="0.6"/>
<line x1="121.13" y1="260.5" x2="121.13" y2="262.3" stroke="#1e1b1c" stroke-width="0.6"/>
<line x1="121.65" y1="260.5" x2="121.65" y2="262.3" stroke="#1e1b1c" stroke-width="0.6"/>
<line x1="125.07" y1="260.5" x2="125.07" y2="262.3" stroke="#1e1b1c" stroke-width="0.6"/>
<line x1="127.07" y1="260.5" x2="127.07" y2="262.3" stroke="#1e1b1c" stroke-width="0.6"/>
<line x1="128.48" y1="260.5" x2="128.48" y2="262.3" stroke="#1e1b1c" stroke-width="0.6"/>
<line x1="129.58" y1="260.5" x2="129.58" y2="262.3" stroke="#1e1b1c" stroke-width="0.6"/>
<line x1="130.48" y1="260.5" x2="130.48" y2="262.3" stroke="#1e1b1c" stroke-width="0.6"/>
<line x1="131.24" y1="260.5" x2="131.24" y2="262.3" stroke="#1e1b1c" stroke-width="0.6"/>
<line x1="131.9" y1="260.5" x2="131.9" y2="262.3" stroke="#1e1b1c" stroke-width="0.6"/>
<line x1="132.48" y1="260.5" x2="132.48" y2="262.3" stroke="#1e1b1c" stroke-width="0.6"/>
<text x="60.56" y="273.2" font-size="6.7" textLength="7.23" lengthAdjust="spacingAndGlyphs" class="tk">10</text>
<text x="67.8" y="270.1" font-size="4.1" class="lt">1</text>
<text x="83.26" y="273.2" font-size="6.7" textLength="7.23" lengthAdjust="spacingAndGlyphs" class="tk">10</text>
<text x="90.5" y="270.1" font-size="4.1" class="lt">3</text>
<text x="105.96" y="273.2" font-size="6.7" textLength="7.23" lengthAdjust="spacingAndGlyphs" class="tk">10</text>
<text x="113.2" y="270.1" font-size="4.1" class="lt">5</text>
<text x="128.66" y="273.2" font-size="6.7" textLength="7.23" lengthAdjust="spacingAndGlyphs" class="tk">10</text>
<text x="135.9" y="270.1" font-size="4.1" class="lt">7</text>
<text x="36.51" y="263.46" font-size="8.65" textLength="79.95" lengthAdjust="spacingAndGlyphs" transform="rotate(-90 36.51 263.46)">Normalized to mode</text>
<line x1="181.4" y1="260.5" x2="184.8" y2="260.5" stroke="#1e1b1c" stroke-width="0.9"/>
<text x="175.07" y="262.8" font-size="6.6" textLength="3.67" lengthAdjust="spacingAndGlyphs" class="tk">0</text>
<line x1="183" y1="256.85" x2="184.8" y2="256.85" stroke="#1e1b1c" stroke-width="0.7"/>
<line x1="183" y1="253.2" x2="184.8" y2="253.2" stroke="#1e1b1c" stroke-width="0.7"/>
<line x1="183" y1="249.55" x2="184.8" y2="249.55" stroke="#1e1b1c" stroke-width="0.7"/>
<line x1="181.4" y1="245.9" x2="184.8" y2="245.9" stroke="#1e1b1c" stroke-width="0.9"/>
<text x="171.44" y="248.2" font-size="6.6" textLength="7.34" lengthAdjust="spacingAndGlyphs" class="tk">20</text>
<line x1="183" y1="242.25" x2="184.8" y2="242.25" stroke="#1e1b1c" stroke-width="0.7"/>
<line x1="183" y1="238.6" x2="184.8" y2="238.6" stroke="#1e1b1c" stroke-width="0.7"/>
<line x1="183" y1="234.95" x2="184.8" y2="234.95" stroke="#1e1b1c" stroke-width="0.7"/>
<line x1="181.4" y1="231.3" x2="184.8" y2="231.3" stroke="#1e1b1c" stroke-width="0.9"/>
<text x="171.44" y="233.6" font-size="6.6" textLength="7.34" lengthAdjust="spacingAndGlyphs" class="tk">40</text>
<line x1="183" y1="227.65" x2="184.8" y2="227.65" stroke="#1e1b1c" stroke-width="0.7"/>
<line x1="183" y1="224" x2="184.8" y2="224" stroke="#1e1b1c" stroke-width="0.7"/>
<line x1="183" y1="220.35" x2="184.8" y2="220.35" stroke="#1e1b1c" stroke-width="0.7"/>
<line x1="181.4" y1="216.7" x2="184.8" y2="216.7" stroke="#1e1b1c" stroke-width="0.9"/>
<text x="171.44" y="219" font-size="6.6" textLength="7.34" lengthAdjust="spacingAndGlyphs" class="tk">60</text>
<line x1="183" y1="213.05" x2="184.8" y2="213.05" stroke="#1e1b1c" stroke-width="0.7"/>
<line x1="183" y1="209.4" x2="184.8" y2="209.4" stroke="#1e1b1c" stroke-width="0.7"/>
<line x1="183" y1="205.75" x2="184.8" y2="205.75" stroke="#1e1b1c" stroke-width="0.7"/>
<line x1="181.4" y1="202.1" x2="184.8" y2="202.1" stroke="#1e1b1c" stroke-width="0.9"/>
<text x="171.44" y="204.4" font-size="6.6" textLength="7.34" lengthAdjust="spacingAndGlyphs" class="tk">80</text>
<line x1="183" y1="198.45" x2="184.8" y2="198.45" stroke="#1e1b1c" stroke-width="0.7"/>
<line x1="183" y1="194.8" x2="184.8" y2="194.8" stroke="#1e1b1c" stroke-width="0.7"/>
<line x1="183" y1="191.15" x2="184.8" y2="191.15" stroke="#1e1b1c" stroke-width="0.7"/>
<line x1="181.4" y1="187.5" x2="184.8" y2="187.5" stroke="#1e1b1c" stroke-width="0.9"/>
<text x="167.74" y="189.8" font-size="6.6" textLength="11.01" lengthAdjust="spacingAndGlyphs" class="tk">100</text>
<line x1="189.5" y1="260.5" x2="189.5" y2="263.5" stroke="#1e1b1c" stroke-width="0.8"/>
<line x1="212.2" y1="260.5" x2="212.2" y2="263.5" stroke="#1e1b1c" stroke-width="0.8"/>
<line x1="234.9" y1="260.5" x2="234.9" y2="263.5" stroke="#1e1b1c" stroke-width="0.8"/>
<line x1="257.6" y1="260.5" x2="257.6" y2="263.5" stroke="#1e1b1c" stroke-width="0.8"/>
<line x1="186.08" y1="260.5" x2="186.08" y2="262.3" stroke="#1e1b1c" stroke-width="0.6"/>
<line x1="186.98" y1="260.5" x2="186.98" y2="262.3" stroke="#1e1b1c" stroke-width="0.6"/>
<line x1="187.74" y1="260.5" x2="187.74" y2="262.3" stroke="#1e1b1c" stroke-width="0.6"/>
<line x1="188.4" y1="260.5" x2="188.4" y2="262.3" stroke="#1e1b1c" stroke-width="0.6"/>
<line x1="188.98" y1="260.5" x2="188.98" y2="262.3" stroke="#1e1b1c" stroke-width="0.6"/>
<line x1="192.92" y1="260.5" x2="192.92" y2="262.3" stroke="#1e1b1c" stroke-width="0.6"/>
<line x1="194.92" y1="260.5" x2="194.92" y2="262.3" stroke="#1e1b1c" stroke-width="0.6"/>
<line x1="196.33" y1="260.5" x2="196.33" y2="262.3" stroke="#1e1b1c" stroke-width="0.6"/>
<line x1="197.43" y1="260.5" x2="197.43" y2="262.3" stroke="#1e1b1c" stroke-width="0.6"/>
<line x1="198.33" y1="260.5" x2="198.33" y2="262.3" stroke="#1e1b1c" stroke-width="0.6"/>
<line x1="199.09" y1="260.5" x2="199.09" y2="262.3" stroke="#1e1b1c" stroke-width="0.6"/>
<line x1="199.75" y1="260.5" x2="199.75" y2="262.3" stroke="#1e1b1c" stroke-width="0.6"/>
<line x1="200.33" y1="260.5" x2="200.33" y2="262.3" stroke="#1e1b1c" stroke-width="0.6"/>
<line x1="200.85" y1="260.5" x2="200.85" y2="262.3" stroke="#1e1b1c" stroke-width="0.6"/>
<line x1="204.27" y1="260.5" x2="204.27" y2="262.3" stroke="#1e1b1c" stroke-width="0.6"/>
<line x1="206.27" y1="260.5" x2="206.27" y2="262.3" stroke="#1e1b1c" stroke-width="0.6"/>
<line x1="207.68" y1="260.5" x2="207.68" y2="262.3" stroke="#1e1b1c" stroke-width="0.6"/>
<line x1="208.78" y1="260.5" x2="208.78" y2="262.3" stroke="#1e1b1c" stroke-width="0.6"/>
<line x1="209.68" y1="260.5" x2="209.68" y2="262.3" stroke="#1e1b1c" stroke-width="0.6"/>
<line x1="210.44" y1="260.5" x2="210.44" y2="262.3" stroke="#1e1b1c" stroke-width="0.6"/>
<line x1="211.1" y1="260.5" x2="211.1" y2="262.3" stroke="#1e1b1c" stroke-width="0.6"/>
<line x1="211.68" y1="260.5" x2="211.68" y2="262.3" stroke="#1e1b1c" stroke-width="0.6"/>
<line x1="215.62" y1="260.5" x2="215.62" y2="262.3" stroke="#1e1b1c" stroke-width="0.6"/>
<line x1="217.62" y1="260.5" x2="217.62" y2="262.3" stroke="#1e1b1c" stroke-width="0.6"/>
<line x1="219.03" y1="260.5" x2="219.03" y2="262.3" stroke="#1e1b1c" stroke-width="0.6"/>
<line x1="220.13" y1="260.5" x2="220.13" y2="262.3" stroke="#1e1b1c" stroke-width="0.6"/>
<line x1="221.03" y1="260.5" x2="221.03" y2="262.3" stroke="#1e1b1c" stroke-width="0.6"/>
<line x1="221.79" y1="260.5" x2="221.79" y2="262.3" stroke="#1e1b1c" stroke-width="0.6"/>
<line x1="222.45" y1="260.5" x2="222.45" y2="262.3" stroke="#1e1b1c" stroke-width="0.6"/>
<line x1="223.03" y1="260.5" x2="223.03" y2="262.3" stroke="#1e1b1c" stroke-width="0.6"/>
<line x1="223.55" y1="260.5" x2="223.55" y2="262.3" stroke="#1e1b1c" stroke-width="0.6"/>
<line x1="226.97" y1="260.5" x2="226.97" y2="262.3" stroke="#1e1b1c" stroke-width="0.6"/>
<line x1="228.97" y1="260.5" x2="228.97" y2="262.3" stroke="#1e1b1c" stroke-width="0.6"/>
<line x1="230.38" y1="260.5" x2="230.38" y2="262.3" stroke="#1e1b1c" stroke-width="0.6"/>
<line x1="231.48" y1="260.5" x2="231.48" y2="262.3" stroke="#1e1b1c" stroke-width="0.6"/>
<line x1="232.38" y1="260.5" x2="232.38" y2="262.3" stroke="#1e1b1c" stroke-width="0.6"/>
<line x1="233.14" y1="260.5" x2="233.14" y2="262.3" stroke="#1e1b1c" stroke-width="0.6"/>
<line x1="233.8" y1="260.5" x2="233.8" y2="262.3" stroke="#1e1b1c" stroke-width="0.6"/>
<line x1="234.38" y1="260.5" x2="234.38" y2="262.3" stroke="#1e1b1c" stroke-width="0.6"/>
<line x1="238.32" y1="260.5" x2="238.32" y2="262.3" stroke="#1e1b1c" stroke-width="0.6"/>
<line x1="240.32" y1="260.5" x2="240.32" y2="262.3" stroke="#1e1b1c" stroke-width="0.6"/>
<line x1="241.73" y1="260.5" x2="241.73" y2="262.3" stroke="#1e1b1c" stroke-width="0.6"/>
<line x1="242.83" y1="260.5" x2="242.83" y2="262.3" stroke="#1e1b1c" stroke-width="0.6"/>
<line x1="243.73" y1="260.5" x2="243.73" y2="262.3" stroke="#1e1b1c" stroke-width="0.6"/>
<line x1="244.49" y1="260.5" x2="244.49" y2="262.3" stroke="#1e1b1c" stroke-width="0.6"/>
<line x1="245.15" y1="260.5" x2="245.15" y2="262.3" stroke="#1e1b1c" stroke-width="0.6"/>
<line x1="245.73" y1="260.5" x2="245.73" y2="262.3" stroke="#1e1b1c" stroke-width="0.6"/>
<line x1="246.25" y1="260.5" x2="246.25" y2="262.3" stroke="#1e1b1c" stroke-width="0.6"/>
<line x1="249.67" y1="260.5" x2="249.67" y2="262.3" stroke="#1e1b1c" stroke-width="0.6"/>
<line x1="251.67" y1="260.5" x2="251.67" y2="262.3" stroke="#1e1b1c" stroke-width="0.6"/>
<line x1="253.08" y1="260.5" x2="253.08" y2="262.3" stroke="#1e1b1c" stroke-width="0.6"/>
<line x1="254.18" y1="260.5" x2="254.18" y2="262.3" stroke="#1e1b1c" stroke-width="0.6"/>
<line x1="255.08" y1="260.5" x2="255.08" y2="262.3" stroke="#1e1b1c" stroke-width="0.6"/>
<line x1="255.84" y1="260.5" x2="255.84" y2="262.3" stroke="#1e1b1c" stroke-width="0.6"/>
<line x1="256.5" y1="260.5" x2="256.5" y2="262.3" stroke="#1e1b1c" stroke-width="0.6"/>
<line x1="257.08" y1="260.5" x2="257.08" y2="262.3" stroke="#1e1b1c" stroke-width="0.6"/>
<text x="185.16" y="273.2" font-size="6.7" textLength="7.23" lengthAdjust="spacingAndGlyphs" class="tk">10</text>
<text x="192.4" y="270.1" font-size="4.1" class="lt">1</text>
<text x="207.86" y="273.2" font-size="6.7" textLength="7.23" lengthAdjust="spacingAndGlyphs" class="tk">10</text>
<text x="215.1" y="270.1" font-size="4.1" class="lt">3</text>
<text x="230.56" y="273.2" font-size="6.7" textLength="7.23" lengthAdjust="spacingAndGlyphs" class="tk">10</text>
<text x="237.8" y="270.1" font-size="4.1" class="lt">5</text>
<text x="253.26" y="273.2" font-size="6.7" textLength="7.23" lengthAdjust="spacingAndGlyphs" class="tk">10</text>
<text x="260.5" y="270.1" font-size="4.1" class="lt">7</text>
<text x="161.11" y="263.46" font-size="8.65" textLength="79.95" lengthAdjust="spacingAndGlyphs" transform="rotate(-90 161.11 263.46)">Normalized to mode</text>
<line x1="306.4" y1="260.5" x2="309.8" y2="260.5" stroke="#1e1b1c" stroke-width="0.9"/>
<text x="300.07" y="262.8" font-size="6.6" textLength="3.67" lengthAdjust="spacingAndGlyphs" class="tk">0</text>
<line x1="308" y1="256.85" x2="309.8" y2="256.85" stroke="#1e1b1c" stroke-width="0.7"/>
<line x1="308" y1="253.2" x2="309.8" y2="253.2" stroke="#1e1b1c" stroke-width="0.7"/>
<line x1="308" y1="249.55" x2="309.8" y2="249.55" stroke="#1e1b1c" stroke-width="0.7"/>
<line x1="306.4" y1="245.9" x2="309.8" y2="245.9" stroke="#1e1b1c" stroke-width="0.9"/>
<text x="296.44" y="248.2" font-size="6.6" textLength="7.34" lengthAdjust="spacingAndGlyphs" class="tk">20</text>
<line x1="308" y1="242.25" x2="309.8" y2="242.25" stroke="#1e1b1c" stroke-width="0.7"/>
<line x1="308" y1="238.6" x2="309.8" y2="238.6" stroke="#1e1b1c" stroke-width="0.7"/>
<line x1="308" y1="234.95" x2="309.8" y2="234.95" stroke="#1e1b1c" stroke-width="0.7"/>
<line x1="306.4" y1="231.3" x2="309.8" y2="231.3" stroke="#1e1b1c" stroke-width="0.9"/>
<text x="296.44" y="233.6" font-size="6.6" textLength="7.34" lengthAdjust="spacingAndGlyphs" class="tk">40</text>
<line x1="308" y1="227.65" x2="309.8" y2="227.65" stroke="#1e1b1c" stroke-width="0.7"/>
<line x1="308" y1="224" x2="309.8" y2="224" stroke="#1e1b1c" stroke-width="0.7"/>
<line x1="308" y1="220.35" x2="309.8" y2="220.35" stroke="#1e1b1c" stroke-width="0.7"/>
<line x1="306.4" y1="216.7" x2="309.8" y2="216.7" stroke="#1e1b1c" stroke-width="0.9"/>
<text x="296.44" y="219" font-size="6.6" textLength="7.34" lengthAdjust="spacingAndGlyphs" class="tk">60</text>
<line x1="308" y1="213.05" x2="309.8" y2="213.05" stroke="#1e1b1c" stroke-width="0.7"/>
<line x1="308" y1="209.4" x2="309.8" y2="209.4" stroke="#1e1b1c" stroke-width="0.7"/>
<line x1="308" y1="205.75" x2="309.8" y2="205.75" stroke="#1e1b1c" stroke-width="0.7"/>
<line x1="306.4" y1="202.1" x2="309.8" y2="202.1" stroke="#1e1b1c" stroke-width="0.9"/>
<text x="296.44" y="204.4" font-size="6.6" textLength="7.34" lengthAdjust="spacingAndGlyphs" class="tk">80</text>
<line x1="308" y1="198.45" x2="309.8" y2="198.45" stroke="#1e1b1c" stroke-width="0.7"/>
<line x1="308" y1="194.8" x2="309.8" y2="194.8" stroke="#1e1b1c" stroke-width="0.7"/>
<line x1="308" y1="191.15" x2="309.8" y2="191.15" stroke="#1e1b1c" stroke-width="0.7"/>
<line x1="306.4" y1="187.5" x2="309.8" y2="187.5" stroke="#1e1b1c" stroke-width="0.9"/>
<text x="292.74" y="189.8" font-size="6.6" textLength="11.01" lengthAdjust="spacingAndGlyphs" class="tk">100</text>
<line x1="314.5" y1="260.5" x2="314.5" y2="263.5" stroke="#1e1b1c" stroke-width="0.8"/>
<line x1="337.2" y1="260.5" x2="337.2" y2="263.5" stroke="#1e1b1c" stroke-width="0.8"/>
<line x1="359.9" y1="260.5" x2="359.9" y2="263.5" stroke="#1e1b1c" stroke-width="0.8"/>
<line x1="382.6" y1="260.5" x2="382.6" y2="263.5" stroke="#1e1b1c" stroke-width="0.8"/>
<line x1="311.08" y1="260.5" x2="311.08" y2="262.3" stroke="#1e1b1c" stroke-width="0.6"/>
<line x1="311.98" y1="260.5" x2="311.98" y2="262.3" stroke="#1e1b1c" stroke-width="0.6"/>
<line x1="312.74" y1="260.5" x2="312.74" y2="262.3" stroke="#1e1b1c" stroke-width="0.6"/>
<line x1="313.4" y1="260.5" x2="313.4" y2="262.3" stroke="#1e1b1c" stroke-width="0.6"/>
<line x1="313.98" y1="260.5" x2="313.98" y2="262.3" stroke="#1e1b1c" stroke-width="0.6"/>
<line x1="317.92" y1="260.5" x2="317.92" y2="262.3" stroke="#1e1b1c" stroke-width="0.6"/>
<line x1="319.92" y1="260.5" x2="319.92" y2="262.3" stroke="#1e1b1c" stroke-width="0.6"/>
<line x1="321.33" y1="260.5" x2="321.33" y2="262.3" stroke="#1e1b1c" stroke-width="0.6"/>
<line x1="322.43" y1="260.5" x2="322.43" y2="262.3" stroke="#1e1b1c" stroke-width="0.6"/>
<line x1="323.33" y1="260.5" x2="323.33" y2="262.3" stroke="#1e1b1c" stroke-width="0.6"/>
<line x1="324.09" y1="260.5" x2="324.09" y2="262.3" stroke="#1e1b1c" stroke-width="0.6"/>
<line x1="324.75" y1="260.5" x2="324.75" y2="262.3" stroke="#1e1b1c" stroke-width="0.6"/>
<line x1="325.33" y1="260.5" x2="325.33" y2="262.3" stroke="#1e1b1c" stroke-width="0.6"/>
<line x1="325.85" y1="260.5" x2="325.85" y2="262.3" stroke="#1e1b1c" stroke-width="0.6"/>
<line x1="329.27" y1="260.5" x2="329.27" y2="262.3" stroke="#1e1b1c" stroke-width="0.6"/>
<line x1="331.27" y1="260.5" x2="331.27" y2="262.3" stroke="#1e1b1c" stroke-width="0.6"/>
<line x1="332.68" y1="260.5" x2="332.68" y2="262.3" stroke="#1e1b1c" stroke-width="0.6"/>
<line x1="333.78" y1="260.5" x2="333.78" y2="262.3" stroke="#1e1b1c" stroke-width="0.6"/>
<line x1="334.68" y1="260.5" x2="334.68" y2="262.3" stroke="#1e1b1c" stroke-width="0.6"/>
<line x1="335.44" y1="260.5" x2="335.44" y2="262.3" stroke="#1e1b1c" stroke-width="0.6"/>
<line x1="336.1" y1="260.5" x2="336.1" y2="262.3" stroke="#1e1b1c" stroke-width="0.6"/>
<line x1="336.68" y1="260.5" x2="336.68" y2="262.3" stroke="#1e1b1c" stroke-width="0.6"/>
<line x1="340.62" y1="260.5" x2="340.62" y2="262.3" stroke="#1e1b1c" stroke-width="0.6"/>
<line x1="342.62" y1="260.5" x2="342.62" y2="262.3" stroke="#1e1b1c" stroke-width="0.6"/>
<line x1="344.03" y1="260.5" x2="344.03" y2="262.3" stroke="#1e1b1c" stroke-width="0.6"/>
<line x1="345.13" y1="260.5" x2="345.13" y2="262.3" stroke="#1e1b1c" stroke-width="0.6"/>
<line x1="346.03" y1="260.5" x2="346.03" y2="262.3" stroke="#1e1b1c" stroke-width="0.6"/>
<line x1="346.79" y1="260.5" x2="346.79" y2="262.3" stroke="#1e1b1c" stroke-width="0.6"/>
<line x1="347.45" y1="260.5" x2="347.45" y2="262.3" stroke="#1e1b1c" stroke-width="0.6"/>
<line x1="348.03" y1="260.5" x2="348.03" y2="262.3" stroke="#1e1b1c" stroke-width="0.6"/>
<line x1="348.55" y1="260.5" x2="348.55" y2="262.3" stroke="#1e1b1c" stroke-width="0.6"/>
<line x1="351.97" y1="260.5" x2="351.97" y2="262.3" stroke="#1e1b1c" stroke-width="0.6"/>
<line x1="353.97" y1="260.5" x2="353.97" y2="262.3" stroke="#1e1b1c" stroke-width="0.6"/>
<line x1="355.38" y1="260.5" x2="355.38" y2="262.3" stroke="#1e1b1c" stroke-width="0.6"/>
<line x1="356.48" y1="260.5" x2="356.48" y2="262.3" stroke="#1e1b1c" stroke-width="0.6"/>
<line x1="357.38" y1="260.5" x2="357.38" y2="262.3" stroke="#1e1b1c" stroke-width="0.6"/>
<line x1="358.14" y1="260.5" x2="358.14" y2="262.3" stroke="#1e1b1c" stroke-width="0.6"/>
<line x1="358.8" y1="260.5" x2="358.8" y2="262.3" stroke="#1e1b1c" stroke-width="0.6"/>
<line x1="359.38" y1="260.5" x2="359.38" y2="262.3" stroke="#1e1b1c" stroke-width="0.6"/>
<line x1="363.32" y1="260.5" x2="363.32" y2="262.3" stroke="#1e1b1c" stroke-width="0.6"/>
<line x1="365.32" y1="260.5" x2="365.32" y2="262.3" stroke="#1e1b1c" stroke-width="0.6"/>
<line x1="366.73" y1="260.5" x2="366.73" y2="262.3" stroke="#1e1b1c" stroke-width="0.6"/>
<line x1="367.83" y1="260.5" x2="367.83" y2="262.3" stroke="#1e1b1c" stroke-width="0.6"/>
<line x1="368.73" y1="260.5" x2="368.73" y2="262.3" stroke="#1e1b1c" stroke-width="0.6"/>
<line x1="369.49" y1="260.5" x2="369.49" y2="262.3" stroke="#1e1b1c" stroke-width="0.6"/>
<line x1="370.15" y1="260.5" x2="370.15" y2="262.3" stroke="#1e1b1c" stroke-width="0.6"/>
<line x1="370.73" y1="260.5" x2="370.73" y2="262.3" stroke="#1e1b1c" stroke-width="0.6"/>
<line x1="371.25" y1="260.5" x2="371.25" y2="262.3" stroke="#1e1b1c" stroke-width="0.6"/>
<line x1="374.67" y1="260.5" x2="374.67" y2="262.3" stroke="#1e1b1c" stroke-width="0.6"/>
<line x1="376.67" y1="260.5" x2="376.67" y2="262.3" stroke="#1e1b1c" stroke-width="0.6"/>
<line x1="378.08" y1="260.5" x2="378.08" y2="262.3" stroke="#1e1b1c" stroke-width="0.6"/>
<line x1="379.18" y1="260.5" x2="379.18" y2="262.3" stroke="#1e1b1c" stroke-width="0.6"/>
<line x1="380.08" y1="260.5" x2="380.08" y2="262.3" stroke="#1e1b1c" stroke-width="0.6"/>
<line x1="380.84" y1="260.5" x2="380.84" y2="262.3" stroke="#1e1b1c" stroke-width="0.6"/>
<line x1="381.5" y1="260.5" x2="381.5" y2="262.3" stroke="#1e1b1c" stroke-width="0.6"/>
<line x1="382.08" y1="260.5" x2="382.08" y2="262.3" stroke="#1e1b1c" stroke-width="0.6"/>
<text x="310.16" y="273.2" font-size="6.7" textLength="7.23" lengthAdjust="spacingAndGlyphs" class="tk">10</text>
<text x="317.4" y="270.1" font-size="4.1" class="lt">1</text>
<text x="332.86" y="273.2" font-size="6.7" textLength="7.23" lengthAdjust="spacingAndGlyphs" class="tk">10</text>
<text x="340.1" y="270.1" font-size="4.1" class="lt">3</text>
<text x="355.56" y="273.2" font-size="6.7" textLength="7.23" lengthAdjust="spacingAndGlyphs" class="tk">10</text>
<text x="362.8" y="270.1" font-size="4.1" class="lt">5</text>
<text x="378.26" y="273.2" font-size="6.7" textLength="7.23" lengthAdjust="spacingAndGlyphs" class="tk">10</text>
<text x="385.5" y="270.1" font-size="4.1" class="lt">7</text>
<text x="286.11" y="263.46" font-size="8.65" textLength="79.95" lengthAdjust="spacingAndGlyphs" transform="rotate(-90 286.11 263.46)">Normalized to mode</text>
<line x1="432" y1="260.5" x2="435.4" y2="260.5" stroke="#1e1b1c" stroke-width="0.9"/>
<text x="425.67" y="262.8" font-size="6.6" textLength="3.67" lengthAdjust="spacingAndGlyphs" class="tk">0</text>
<line x1="433.6" y1="257" x2="435.4" y2="257" stroke="#1e1b1c" stroke-width="0.7"/>
<line x1="433.6" y1="253.49" x2="435.4" y2="253.49" stroke="#1e1b1c" stroke-width="0.7"/>
<line x1="433.6" y1="249.99" x2="435.4" y2="249.99" stroke="#1e1b1c" stroke-width="0.7"/>
<line x1="432" y1="246.48" x2="435.4" y2="246.48" stroke="#1e1b1c" stroke-width="0.9"/>
<text x="422.04" y="248.78" font-size="6.6" textLength="7.34" lengthAdjust="spacingAndGlyphs" class="tk">20</text>
<line x1="433.6" y1="242.97" x2="435.4" y2="242.97" stroke="#1e1b1c" stroke-width="0.7"/>
<line x1="433.6" y1="239.47" x2="435.4" y2="239.47" stroke="#1e1b1c" stroke-width="0.7"/>
<line x1="433.6" y1="235.97" x2="435.4" y2="235.97" stroke="#1e1b1c" stroke-width="0.7"/>
<line x1="432" y1="232.46" x2="435.4" y2="232.46" stroke="#1e1b1c" stroke-width="0.9"/>
<text x="422.04" y="234.76" font-size="6.6" textLength="7.34" lengthAdjust="spacingAndGlyphs" class="tk">40</text>
<line x1="433.6" y1="228.96" x2="435.4" y2="228.96" stroke="#1e1b1c" stroke-width="0.7"/>
<line x1="433.6" y1="225.45" x2="435.4" y2="225.45" stroke="#1e1b1c" stroke-width="0.7"/>
<line x1="433.6" y1="221.94" x2="435.4" y2="221.94" stroke="#1e1b1c" stroke-width="0.7"/>
<line x1="432" y1="218.44" x2="435.4" y2="218.44" stroke="#1e1b1c" stroke-width="0.9"/>
<text x="422.04" y="220.74" font-size="6.6" textLength="7.34" lengthAdjust="spacingAndGlyphs" class="tk">60</text>
<line x1="433.6" y1="214.94" x2="435.4" y2="214.94" stroke="#1e1b1c" stroke-width="0.7"/>
<line x1="433.6" y1="211.43" x2="435.4" y2="211.43" stroke="#1e1b1c" stroke-width="0.7"/>
<line x1="433.6" y1="207.93" x2="435.4" y2="207.93" stroke="#1e1b1c" stroke-width="0.7"/>
<line x1="432" y1="204.42" x2="435.4" y2="204.42" stroke="#1e1b1c" stroke-width="0.9"/>
<text x="422.04" y="206.72" font-size="6.6" textLength="7.34" lengthAdjust="spacingAndGlyphs" class="tk">80</text>
<line x1="433.6" y1="200.92" x2="435.4" y2="200.92" stroke="#1e1b1c" stroke-width="0.7"/>
<line x1="433.6" y1="197.41" x2="435.4" y2="197.41" stroke="#1e1b1c" stroke-width="0.7"/>
<line x1="433.6" y1="193.91" x2="435.4" y2="193.91" stroke="#1e1b1c" stroke-width="0.7"/>
<line x1="432" y1="190.4" x2="435.4" y2="190.4" stroke="#1e1b1c" stroke-width="0.9"/>
<text x="418.34" y="192.7" font-size="6.6" textLength="11.01" lengthAdjust="spacingAndGlyphs" class="tk">100</text>
<line x1="439.4" y1="260.5" x2="439.4" y2="263.5" stroke="#1e1b1c" stroke-width="0.8"/>
<line x1="460.9" y1="260.5" x2="460.9" y2="263.5" stroke="#1e1b1c" stroke-width="0.8"/>
<line x1="482.4" y1="260.5" x2="482.4" y2="263.5" stroke="#1e1b1c" stroke-width="0.8"/>
<line x1="503.9" y1="260.5" x2="503.9" y2="263.5" stroke="#1e1b1c" stroke-width="0.8"/>
<line x1="436.16" y1="260.5" x2="436.16" y2="262.3" stroke="#1e1b1c" stroke-width="0.6"/>
<line x1="437.02" y1="260.5" x2="437.02" y2="262.3" stroke="#1e1b1c" stroke-width="0.6"/>
<line x1="437.73" y1="260.5" x2="437.73" y2="262.3" stroke="#1e1b1c" stroke-width="0.6"/>
<line x1="438.36" y1="260.5" x2="438.36" y2="262.3" stroke="#1e1b1c" stroke-width="0.6"/>
<line x1="438.91" y1="260.5" x2="438.91" y2="262.3" stroke="#1e1b1c" stroke-width="0.6"/>
<line x1="442.64" y1="260.5" x2="442.64" y2="262.3" stroke="#1e1b1c" stroke-width="0.6"/>
<line x1="444.53" y1="260.5" x2="444.53" y2="262.3" stroke="#1e1b1c" stroke-width="0.6"/>
<line x1="445.87" y1="260.5" x2="445.87" y2="262.3" stroke="#1e1b1c" stroke-width="0.6"/>
<line x1="446.91" y1="260.5" x2="446.91" y2="262.3" stroke="#1e1b1c" stroke-width="0.6"/>
<line x1="447.77" y1="260.5" x2="447.77" y2="262.3" stroke="#1e1b1c" stroke-width="0.6"/>
<line x1="448.48" y1="260.5" x2="448.48" y2="262.3" stroke="#1e1b1c" stroke-width="0.6"/>
<line x1="449.11" y1="260.5" x2="449.11" y2="262.3" stroke="#1e1b1c" stroke-width="0.6"/>
<line x1="449.66" y1="260.5" x2="449.66" y2="262.3" stroke="#1e1b1c" stroke-width="0.6"/>
<line x1="450.15" y1="260.5" x2="450.15" y2="262.3" stroke="#1e1b1c" stroke-width="0.6"/>
<line x1="453.39" y1="260.5" x2="453.39" y2="262.3" stroke="#1e1b1c" stroke-width="0.6"/>
<line x1="455.28" y1="260.5" x2="455.28" y2="262.3" stroke="#1e1b1c" stroke-width="0.6"/>
<line x1="456.62" y1="260.5" x2="456.62" y2="262.3" stroke="#1e1b1c" stroke-width="0.6"/>
<line x1="457.66" y1="260.5" x2="457.66" y2="262.3" stroke="#1e1b1c" stroke-width="0.6"/>
<line x1="458.52" y1="260.5" x2="458.52" y2="262.3" stroke="#1e1b1c" stroke-width="0.6"/>
<line x1="459.23" y1="260.5" x2="459.23" y2="262.3" stroke="#1e1b1c" stroke-width="0.6"/>
<line x1="459.86" y1="260.5" x2="459.86" y2="262.3" stroke="#1e1b1c" stroke-width="0.6"/>
<line x1="460.41" y1="260.5" x2="460.41" y2="262.3" stroke="#1e1b1c" stroke-width="0.6"/>
<line x1="464.14" y1="260.5" x2="464.14" y2="262.3" stroke="#1e1b1c" stroke-width="0.6"/>
<line x1="466.03" y1="260.5" x2="466.03" y2="262.3" stroke="#1e1b1c" stroke-width="0.6"/>
<line x1="467.37" y1="260.5" x2="467.37" y2="262.3" stroke="#1e1b1c" stroke-width="0.6"/>
<line x1="468.41" y1="260.5" x2="468.41" y2="262.3" stroke="#1e1b1c" stroke-width="0.6"/>
<line x1="469.27" y1="260.5" x2="469.27" y2="262.3" stroke="#1e1b1c" stroke-width="0.6"/>
<line x1="469.98" y1="260.5" x2="469.98" y2="262.3" stroke="#1e1b1c" stroke-width="0.6"/>
<line x1="470.61" y1="260.5" x2="470.61" y2="262.3" stroke="#1e1b1c" stroke-width="0.6"/>
<line x1="471.16" y1="260.5" x2="471.16" y2="262.3" stroke="#1e1b1c" stroke-width="0.6"/>
<line x1="471.65" y1="260.5" x2="471.65" y2="262.3" stroke="#1e1b1c" stroke-width="0.6"/>
<line x1="474.89" y1="260.5" x2="474.89" y2="262.3" stroke="#1e1b1c" stroke-width="0.6"/>
<line x1="476.78" y1="260.5" x2="476.78" y2="262.3" stroke="#1e1b1c" stroke-width="0.6"/>
<line x1="478.12" y1="260.5" x2="478.12" y2="262.3" stroke="#1e1b1c" stroke-width="0.6"/>
<line x1="479.16" y1="260.5" x2="479.16" y2="262.3" stroke="#1e1b1c" stroke-width="0.6"/>
<line x1="480.02" y1="260.5" x2="480.02" y2="262.3" stroke="#1e1b1c" stroke-width="0.6"/>
<line x1="480.73" y1="260.5" x2="480.73" y2="262.3" stroke="#1e1b1c" stroke-width="0.6"/>
<line x1="481.36" y1="260.5" x2="481.36" y2="262.3" stroke="#1e1b1c" stroke-width="0.6"/>
<line x1="481.91" y1="260.5" x2="481.91" y2="262.3" stroke="#1e1b1c" stroke-width="0.6"/>
<line x1="485.64" y1="260.5" x2="485.64" y2="262.3" stroke="#1e1b1c" stroke-width="0.6"/>
<line x1="487.53" y1="260.5" x2="487.53" y2="262.3" stroke="#1e1b1c" stroke-width="0.6"/>
<line x1="488.87" y1="260.5" x2="488.87" y2="262.3" stroke="#1e1b1c" stroke-width="0.6"/>
<line x1="489.91" y1="260.5" x2="489.91" y2="262.3" stroke="#1e1b1c" stroke-width="0.6"/>
<line x1="490.77" y1="260.5" x2="490.77" y2="262.3" stroke="#1e1b1c" stroke-width="0.6"/>
<line x1="491.48" y1="260.5" x2="491.48" y2="262.3" stroke="#1e1b1c" stroke-width="0.6"/>
<line x1="492.11" y1="260.5" x2="492.11" y2="262.3" stroke="#1e1b1c" stroke-width="0.6"/>
<line x1="492.66" y1="260.5" x2="492.66" y2="262.3" stroke="#1e1b1c" stroke-width="0.6"/>
<line x1="493.15" y1="260.5" x2="493.15" y2="262.3" stroke="#1e1b1c" stroke-width="0.6"/>
<line x1="496.39" y1="260.5" x2="496.39" y2="262.3" stroke="#1e1b1c" stroke-width="0.6"/>
<line x1="498.28" y1="260.5" x2="498.28" y2="262.3" stroke="#1e1b1c" stroke-width="0.6"/>
<line x1="499.62" y1="260.5" x2="499.62" y2="262.3" stroke="#1e1b1c" stroke-width="0.6"/>
<line x1="500.66" y1="260.5" x2="500.66" y2="262.3" stroke="#1e1b1c" stroke-width="0.6"/>
<line x1="501.52" y1="260.5" x2="501.52" y2="262.3" stroke="#1e1b1c" stroke-width="0.6"/>
<line x1="502.23" y1="260.5" x2="502.23" y2="262.3" stroke="#1e1b1c" stroke-width="0.6"/>
<line x1="502.86" y1="260.5" x2="502.86" y2="262.3" stroke="#1e1b1c" stroke-width="0.6"/>
<line x1="503.41" y1="260.5" x2="503.41" y2="262.3" stroke="#1e1b1c" stroke-width="0.6"/>
<text x="435.06" y="273.2" font-size="6.7" textLength="7.23" lengthAdjust="spacingAndGlyphs" class="tk">10</text>
<text x="442.3" y="270.1" font-size="4.1" class="lt">1</text>
<text x="456.56" y="273.2" font-size="6.7" textLength="7.23" lengthAdjust="spacingAndGlyphs" class="tk">10</text>
<text x="463.8" y="270.1" font-size="4.1" class="lt">3</text>
<text x="478.06" y="273.2" font-size="6.7" textLength="7.23" lengthAdjust="spacingAndGlyphs" class="tk">10</text>
<text x="485.3" y="270.1" font-size="4.1" class="lt">5</text>
<text x="499.56" y="273.2" font-size="6.7" textLength="7.23" lengthAdjust="spacingAndGlyphs" class="tk">10</text>
<text x="506.8" y="270.1" font-size="4.1" class="lt">7</text>
<text x="410.51" y="263.46" font-size="8.65" textLength="79.95" lengthAdjust="spacingAndGlyphs" transform="rotate(-90 410.51 263.46)">Normalized to mode</text>
<path d="M73.7,260.5 C74.33,259.67 76.47,258.33 77.5,255.5 C78.53,252.67 79.22,248.08 79.9,243.5 C80.58,238.92 81.08,233.93 81.6,228 C82.12,222.07 82.57,213.57 83,207.9 C83.43,202.23 83.88,197.02 84.2,194 C84.52,190.98 84.65,189.97 84.9,189.8 C85.15,189.63 85.45,191.02 85.7,193 C85.95,194.98 86.12,197.87 86.4,201.7 C86.68,205.53 87.07,211.23 87.4,216 C87.73,220.77 88.1,225.97 88.4,230.3 C88.7,234.63 88.95,238.9 89.2,242 C89.45,245.1 89.6,247.15 89.9,248.9 C90.2,250.65 90.6,251.77 91,252.5 C91.4,253.23 91.72,253.08 92.3,253.3 C92.88,253.52 93.87,253.6 94.5,253.8 C95.13,254 95.52,253.97 96.1,254.5 C96.68,255.03 97.38,256 98,257 C98.62,258 99.5,259.92 99.8,260.5 L99.8,260.5 L73.7,260.5 Z" fill="#dedde0" stroke="#c9c8cc" stroke-width="0.6"/>
<path d="M68.5,260.5 C68.95,260.45 70.2,260.53 71.2,260.2 C72.2,259.87 73.25,259.75 74.5,258.5 C75.75,257.25 77.65,255.45 78.7,252.7 C79.75,249.95 80.18,246.37 80.8,242 C81.42,237.63 81.87,232.17 82.4,226.5 C82.93,220.83 83.52,212.92 84,208 C84.48,203.08 84.95,199.3 85.3,197 C85.65,194.7 85.82,193.95 86.1,194.2 C86.38,194.45 86.68,196.03 87,198.5 C87.32,200.97 87.63,204.75 88,209 C88.37,213.25 88.83,220.08 89.2,224 C89.57,227.92 89.88,230.22 90.2,232.5 C90.52,234.78 90.63,235.58 91.1,237.7 C91.57,239.82 92.43,243.72 93,245.2 C93.57,246.68 94.12,246.43 94.5,246.6 C94.88,246.77 95.03,246.23 95.3,246.2 C95.57,246.17 95.77,245.95 96.1,246.4 C96.43,246.85 96.85,247.83 97.3,248.9 C97.75,249.97 98.28,251.55 98.8,252.8 C99.32,254.05 99.87,255.33 100.4,256.4 C100.93,257.47 101.48,258.52 102,259.2 C102.52,259.88 103.25,260.28 103.5,260.5" fill="none" stroke="#34508a" stroke-width="0.95" stroke-linejoin="round"/>
<path d="M186.5,260.5 C187.08,260.28 188.83,259.87 190,259.2 C191.17,258.53 192.43,257.9 193.5,256.5 C194.57,255.1 195.58,252.8 196.4,250.8 C197.22,248.8 197.77,246.68 198.4,244.5 C199.03,242.32 199.63,240.78 200.2,237.7 C200.77,234.62 201.28,230.13 201.8,226 C202.32,221.87 202.8,217.23 203.3,212.9 C203.8,208.57 204.38,203.23 204.8,200 C205.22,196.77 205.53,194.83 205.8,193.5 C206.07,192.17 206.17,191.58 206.4,192 C206.63,192.42 206.88,193.35 207.2,196 C207.52,198.65 207.97,204.07 208.3,207.9 C208.63,211.73 208.9,215.27 209.2,219 C209.5,222.73 209.73,226.3 210.1,230.3 C210.47,234.3 210.98,239.27 211.4,243 C211.82,246.73 212.25,250.28 212.6,252.7 C212.95,255.12 213.18,256.2 213.5,257.5 C213.82,258.8 214.33,260 214.5,260.5 L214.5,260.5 L186.5,260.5 Z" fill="#dedde0" stroke="#c9c8cc" stroke-width="0.6"/>
<path d="M195,260.5 C195.58,260.33 197.22,260.8 198.5,259.5 C199.78,258.2 201.62,255.37 202.7,252.7 C203.78,250.03 204.28,247.23 205,243.5 C205.72,239.77 206.45,234.72 207,230.3 C207.55,225.88 207.88,221.37 208.3,217 C208.72,212.63 209.08,207.68 209.5,204.1 C209.92,200.52 210.38,197.73 210.8,195.5 C211.22,193.27 211.63,190.95 212,190.7 C212.37,190.45 212.68,192.58 213,194 C213.32,195.42 213.55,196.37 213.9,199.2 C214.25,202.03 214.7,206.45 215.1,211 C215.5,215.55 215.93,221.92 216.3,226.5 C216.67,231.08 216.98,234.77 217.3,238.5 C217.62,242.23 217.8,245.98 218.2,248.9 C218.6,251.82 219.18,254.07 219.7,256 C220.22,257.93 221.03,259.75 221.3,260.5" fill="none" stroke="#34508a" stroke-width="0.95" stroke-linejoin="round"/>
<path d="M313,260.5 C313.67,260.38 315.8,260.48 317,259.8 C318.2,259.12 319.33,257.62 320.2,256.4 C321.07,255.18 321.58,253.95 322.2,252.5 C322.82,251.05 323.35,249.62 323.9,247.7 C324.45,245.78 324.98,243.48 325.5,241 C326.02,238.52 326.58,235.97 327,232.8 C327.42,229.63 327.68,225.73 328,222 C328.32,218.27 328.48,214.23 328.9,210.4 C329.32,206.57 330.02,201.95 330.5,199 C330.98,196.05 331.48,193.12 331.8,192.7 C332.12,192.28 332.22,195 332.4,196.5 C332.58,198 332.73,199.45 332.9,201.7 C333.07,203.95 333.23,206.9 333.4,210 C333.57,213.1 333.72,216.47 333.9,220.3 C334.08,224.13 334.3,228.85 334.5,233 C334.7,237.15 334.92,241.78 335.1,245.2 C335.28,248.62 335.38,250.95 335.6,253.5 C335.82,256.05 336.27,259.33 336.4,260.5 L336.4,260.5 L313,260.5 Z" fill="#dedde0" stroke="#c9c8cc" stroke-width="0.6"/>
<path d="M334.5,260.5 C334.83,260.22 335.77,260.73 336.5,258.8 C337.23,256.87 338.28,252.53 338.9,248.9 C339.52,245.27 339.8,241.15 340.2,237 C340.6,232.85 341,228.17 341.3,224 C341.6,219.83 341.75,215.72 342,212 C342.25,208.28 342.5,204.87 342.8,201.7 C343.1,198.53 343.47,194.98 343.8,193 C344.13,191.02 344.5,189.63 344.8,189.8 C345.1,189.97 345.35,191.72 345.6,194 C345.85,196.28 346.07,201.33 346.3,203.5 C346.53,205.67 346.75,205.23 347,207 C347.25,208.77 347.53,211.18 347.8,214.1 C348.07,217.02 348.33,220.98 348.6,224.5 C348.87,228.02 349.12,231.7 349.4,235.2 C349.68,238.7 349.98,242.38 350.3,245.5 C350.62,248.62 350.98,251.78 351.3,253.9 C351.62,256.02 351.83,257.1 352.2,258.2 C352.57,259.3 353.28,260.12 353.5,260.5" fill="none" stroke="#34508a" stroke-width="0.95" stroke-linejoin="round"/>
<path d="M440,260.5 C440.67,260.22 442.77,259.9 444,258.8 C445.23,257.7 446.57,255.37 447.4,253.9 C448.23,252.43 448.48,251.45 449,250 C449.52,248.55 450.03,247.45 450.5,245.2 C450.97,242.95 451.38,239.62 451.8,236.5 C452.22,233.38 452.62,229.92 453,226.5 C453.38,223.08 453.82,218.68 454.1,216 C454.38,213.32 454.47,212.78 454.7,210.4 C454.93,208.02 455.2,204.35 455.5,201.7 C455.8,199.05 456.18,196.17 456.5,194.5 C456.82,192.83 457.12,191.62 457.4,191.7 C457.68,191.78 457.95,193.33 458.2,195 C458.45,196.67 458.7,198.87 458.9,201.7 C459.1,204.53 459.23,208.28 459.4,212 C459.57,215.72 459.72,220.42 459.9,224 C460.08,227.58 460.3,230.9 460.5,233.5 C460.7,236.1 460.85,238.35 461.1,239.6 C461.35,240.85 461.68,240.68 462,241 C462.32,241.32 462.62,241.17 463,241.5 C463.38,241.83 463.88,242.38 464.3,243 C464.72,243.62 465.12,244.28 465.5,245.2 C465.88,246.12 466.25,247.25 466.6,248.5 C466.95,249.75 467.2,251.2 467.6,252.7 C468,254.2 468.53,256.2 469,257.5 C469.47,258.8 470.17,260 470.4,260.5 L470.4,260.5 L440,260.5 Z" fill="#dedde0" stroke="#c9c8cc" stroke-width="0.6"/>
<path d="M452.5,260.5 C452.83,260.3 453.78,260.6 454.5,259.3 C455.22,258 456.15,255.17 456.8,252.7 C457.45,250.23 457.88,247.42 458.4,244.5 C458.92,241.58 459.5,238.53 459.9,235.2 C460.3,231.87 460.5,228.02 460.8,224.5 C461.1,220.98 461.4,217.27 461.7,214.1 C462,210.93 462.32,207.98 462.6,205.5 C462.88,203.02 463.17,200.95 463.4,199.2 C463.63,197.45 463.82,196 464,195 C464.18,194 464.32,193.03 464.5,193.2 C464.68,193.37 464.88,194.58 465.1,196 C465.32,197.42 465.53,198.95 465.8,201.7 C466.07,204.45 466.4,208.78 466.7,212.5 C467,216.22 467.27,220.25 467.6,224 C467.93,227.75 468.33,231.47 468.7,235 C469.07,238.53 469.42,242.45 469.8,245.2 C470.18,247.95 470.58,249.63 471,251.5 C471.42,253.37 471.88,255.12 472.3,256.4 C472.72,257.68 473.05,258.52 473.5,259.2 C473.95,259.88 474.75,260.28 475,260.5" fill="none" stroke="#34508a" stroke-width="0.95" stroke-linejoin="round"/>
<rect x="60.2" y="183.7" width="74" height="76.8" fill="none" stroke="#1e1b1c" stroke-width="1.15"/>
<rect x="184.8" y="183.7" width="74" height="76.8" fill="none" stroke="#1e1b1c" stroke-width="1.15"/>
<rect x="309.8" y="183.7" width="74" height="76.8" fill="none" stroke="#1e1b1c" stroke-width="1.15"/>
<rect x="435.4" y="186.6" width="70.8" height="73.9" fill="none" stroke="#1e1b1c" stroke-width="1.15"/>
<line x1="36.9" y1="287.3" x2="52.9" y2="287.3" stroke="#1e1b1c" stroke-width="1.15"/>
<text x="55.88" y="290.91" font-size="9.44" textLength="21.72" lengthAdjust="spacingAndGlyphs">CD37</text>
<line x1="80.3" y1="287.3" x2="96" y2="287.3" stroke="#1e1b1c" stroke-width="1.15"/>
<path d="M102,287.3 L94.3,283.9 L95.8,287.3 L94.3,290.7 Z" fill="#1e1b1c"/>
<rect x="57.6" y="404.22" width="5.6" height="16.08" fill="#a5002a" stroke="#96001f" stroke-width="0.8"/>
<line x1="60.4" y1="403.82" x2="60.4" y2="400.12" stroke="#a5002a" stroke-width="1"/>
<line x1="58.2" y1="400.12" x2="62.6" y2="400.12" stroke="#a5002a" stroke-width="1.1"/>
<rect x="66.1" y="391.23" width="5.7" height="29.07" fill="#2d4a7d" stroke="#1c376f" stroke-width="0.8"/>
<line x1="68.95" y1="390.83" x2="68.95" y2="386.33" stroke="#2d4a7d" stroke-width="1"/>
<line x1="66.75" y1="386.33" x2="71.15" y2="386.33" stroke="#2d4a7d" stroke-width="1.1"/>
<rect x="79.77" y="404.22" width="5.6" height="16.08" fill="#a5002a" stroke="#96001f" stroke-width="0.8"/>
<line x1="82.57" y1="403.82" x2="82.57" y2="400.12" stroke="#a5002a" stroke-width="1"/>
<line x1="80.37" y1="400.12" x2="84.77" y2="400.12" stroke="#a5002a" stroke-width="1.1"/>
<rect x="88.27" y="376.84" width="5.7" height="43.46" fill="#2d4a7d" stroke="#1c376f" stroke-width="0.8"/>
<line x1="91.12" y1="376.44" x2="91.12" y2="371.54" stroke="#2d4a7d" stroke-width="1"/>
<line x1="88.92" y1="371.54" x2="93.32" y2="371.54" stroke="#2d4a7d" stroke-width="1.1"/>
<rect x="101.94" y="394.89" width="5.6" height="25.41" fill="#a5002a" stroke="#96001f" stroke-width="0.8"/>
<line x1="104.74" y1="394.49" x2="104.74" y2="389.79" stroke="#a5002a" stroke-width="1"/>
<line x1="102.54" y1="389.79" x2="106.94" y2="389.79" stroke="#a5002a" stroke-width="1.1"/>
<rect x="110.44" y="358.88" width="5.7" height="61.42" fill="#2d4a7d" stroke="#1c376f" stroke-width="0.8"/>
<line x1="113.29" y1="358.48" x2="113.29" y2="357.68" stroke="#2d4a7d" stroke-width="1"/>
<line x1="111.09" y1="357.68" x2="115.49" y2="357.68" stroke="#2d4a7d" stroke-width="1.1"/>
<rect x="124.11" y="410.24" width="5.6" height="10.06" fill="#a5002a" stroke="#96001f" stroke-width="0.8"/>
<line x1="126.91" y1="409.84" x2="126.91" y2="407.34" stroke="#a5002a" stroke-width="1"/>
<line x1="124.71" y1="407.34" x2="129.11" y2="407.34" stroke="#a5002a" stroke-width="1.1"/>
<rect x="132.61" y="367.6" width="5.7" height="52.7" fill="#2d4a7d" stroke="#1c376f" stroke-width="0.8"/>
<line x1="135.46" y1="367.2" x2="135.46" y2="363.4" stroke="#2d4a7d" stroke-width="1"/>
<line x1="133.26" y1="363.4" x2="137.66" y2="363.4" stroke="#2d4a7d" stroke-width="1.1"/>
<rect x="146.28" y="386.95" width="5.6" height="33.35" fill="#a5002a" stroke="#96001f" stroke-width="0.8"/>
<rect x="154.78" y="369.51" width="5.7" height="50.79" fill="#2d4a7d" stroke="#1c376f" stroke-width="0.8"/>
<rect x="168.45" y="336.55" width="5.6" height="83.75" fill="#a5002a" stroke="#96001f" stroke-width="0.8"/>
<rect x="176.95" y="346.32" width="5.7" height="73.98" fill="#2d4a7d" stroke="#1c376f" stroke-width="0.8"/>
<line x1="54.5" y1="330" x2="54.5" y2="420.9" stroke="#1e1b1c" stroke-width="1.2"/>
<line x1="53.9" y1="420.3" x2="185.9" y2="420.3" stroke="#1e1b1c" stroke-width="1.2"/>
<line x1="51.1" y1="420.3" x2="54.5" y2="420.3" stroke="#1e1b1c" stroke-width="1"/>
<text x="44.52" y="423.2" font-size="6.3" textLength="3.5" lengthAdjust="spacingAndGlyphs" class="tk">0</text>
<line x1="51.1" y1="402.86" x2="54.5" y2="402.86" stroke="#1e1b1c" stroke-width="1"/>
<text x="41.06" y="405.76" font-size="6.3" textLength="7.01" lengthAdjust="spacingAndGlyphs" class="tk">20</text>
<line x1="51.1" y1="385.42" x2="54.5" y2="385.42" stroke="#1e1b1c" stroke-width="1"/>
<text x="41.06" y="388.32" font-size="6.3" textLength="7.01" lengthAdjust="spacingAndGlyphs" class="tk">40</text>
<line x1="51.1" y1="367.98" x2="54.5" y2="367.98" stroke="#1e1b1c" stroke-width="1"/>
<text x="41.06" y="370.88" font-size="6.3" textLength="7.01" lengthAdjust="spacingAndGlyphs" class="tk">60</text>
<line x1="51.1" y1="350.54" x2="54.5" y2="350.54" stroke="#1e1b1c" stroke-width="1"/>
<text x="41.06" y="353.44" font-size="6.3" textLength="7.01" lengthAdjust="spacingAndGlyphs" class="tk">80</text>
<line x1="51.1" y1="333.1" x2="54.5" y2="333.1" stroke="#1e1b1c" stroke-width="1"/>
<text x="37.53" y="336" font-size="6.3" textLength="10.51" lengthAdjust="spacingAndGlyphs" class="tk">100</text>
<line x1="64.2" y1="420.3" x2="64.2" y2="423.6" stroke="#1e1b1c" stroke-width="1"/>
<line x1="86.37" y1="420.3" x2="86.37" y2="423.6" stroke="#1e1b1c" stroke-width="1"/>
<line x1="108.54" y1="420.3" x2="108.54" y2="423.6" stroke="#1e1b1c" stroke-width="1"/>
<line x1="130.71" y1="420.3" x2="130.71" y2="423.6" stroke="#1e1b1c" stroke-width="1"/>
<line x1="152.88" y1="420.3" x2="152.88" y2="423.6" stroke="#1e1b1c" stroke-width="1"/>
<line x1="175.05" y1="420.3" x2="175.05" y2="423.6" stroke="#1e1b1c" stroke-width="1"/>
<text x="67.8" y="429.6" font-size="6.3" text-anchor="end" textLength="23" lengthAdjust="spacingAndGlyphs" transform="rotate(-45 67.8 429.6)" class="lt">medium</text>
<text x="91.17" y="431.1" font-size="6.3" text-anchor="end" textLength="20" lengthAdjust="spacingAndGlyphs" transform="rotate(-45 91.17 431.1)" class="lt">JEKO-1</text>
<text x="113.14" y="430.6" font-size="6.3" text-anchor="end" textLength="19.5" lengthAdjust="spacingAndGlyphs" transform="rotate(-45 113.14 430.6)" class="lt">HUT78</text>
<text x="135.11" y="430.7" font-size="6.3" text-anchor="end" textLength="15.5" lengthAdjust="spacingAndGlyphs" transform="rotate(-45 135.11 430.7)" class="lt">FEDP</text>
<text x="157.28" y="431.1" font-size="6.3" text-anchor="end" textLength="42" lengthAdjust="spacingAndGlyphs" transform="rotate(-45 157.28 431.1)" class="lt">CBTL-81777-V2</text>
<text x="179.45" y="430.6" font-size="6.3" text-anchor="end" textLength="13" lengthAdjust="spacingAndGlyphs" transform="rotate(-45 179.45 430.6)" class="lt">PMA</text>
<text x="30.9" y="407.42" font-size="9" textLength="64.63" lengthAdjust="spacingAndGlyphs" transform="rotate(-90 30.9 407.42)">CD69 expression</text>
<rect x="60.4" y="325.4" width="9.5" height="5.1" fill="#a5002a"/>
<text x="72.38" y="330.53" font-size="6.86" textLength="13.31" lengthAdjust="spacingAndGlyphs" class="lt">UTD</text>
<rect x="94.0" y="325.4" width="9.2" height="5.1" fill="#2d4a7d"/>
<text x="106.2" y="330.63" font-size="7.04" textLength="33.02" lengthAdjust="spacingAndGlyphs" class="lt">CAR-37 H-L</text>
<rect x="296.6" y="419.41" width="5.2" height="0.89" fill="#a5002a" stroke="#96001f" stroke-width="0.8"/>
<rect x="304.9" y="388.95" width="5.2" height="31.35" fill="#2d4a7d" stroke="#1c376f" stroke-width="0.8"/>
<rect x="318.8" y="401.22" width="5.2" height="19.08" fill="#a5002a" stroke="#96001f" stroke-width="0.8"/>
<rect x="327.1" y="340.39" width="5.2" height="79.91" fill="#2d4a7d" stroke="#1c376f" stroke-width="0.8"/>
<rect x="340.6" y="419.27" width="6" height="1.03" fill="#a5002a"/>
<rect x="349.3" y="374.02" width="5.2" height="46.28" fill="#2d4a7d" stroke="#1c376f" stroke-width="0.8"/>
<rect x="362.8" y="419.61" width="6" height="0.69" fill="#a5002a"/>
<rect x="371.5" y="352.4" width="5.2" height="67.9" fill="#2d4a7d" stroke="#1c376f" stroke-width="0.8"/>
<rect x="385.4" y="363.13" width="5.2" height="57.17" fill="#a5002a" stroke="#96001f" stroke-width="0.8"/>
<rect x="393.7" y="343.22" width="5.2" height="77.08" fill="#2d4a7d" stroke="#1c376f" stroke-width="0.8"/>
<rect x="407.6" y="334.9" width="5.2" height="85.4" fill="#a5002a" stroke="#96001f" stroke-width="0.8"/>
<rect x="415.9" y="334.9" width="5.2" height="85.4" fill="#2d4a7d" stroke="#1c376f" stroke-width="0.8"/>
<line x1="293.5" y1="331.8" x2="293.5" y2="420.9" stroke="#1e1b1c" stroke-width="1.2"/>
<line x1="292.9" y1="420.3" x2="423.7" y2="420.3" stroke="#1e1b1c" stroke-width="1.2"/>
<line x1="290.1" y1="420.3" x2="293.5" y2="420.3" stroke="#1e1b1c" stroke-width="1"/>
<text x="283.52" y="423.2" font-size="6.3" textLength="3.5" lengthAdjust="spacingAndGlyphs" class="tk">0</text>
<line x1="290.1" y1="403.14" x2="293.5" y2="403.14" stroke="#1e1b1c" stroke-width="1"/>
<text x="280.06" y="406.04" font-size="6.3" textLength="7.01" lengthAdjust="spacingAndGlyphs" class="tk">20</text>
<line x1="290.1" y1="385.98" x2="293.5" y2="385.98" stroke="#1e1b1c" stroke-width="1"/>
<text x="280.06" y="388.88" font-size="6.3" textLength="7.01" lengthAdjust="spacingAndGlyphs" class="tk">40</text>
<line x1="290.1" y1="368.82" x2="293.5" y2="368.82" stroke="#1e1b1c" stroke-width="1"/>
<text x="280.06" y="371.72" font-size="6.3" textLength="7.01" lengthAdjust="spacingAndGlyphs" class="tk">60</text>
<line x1="290.1" y1="351.66" x2="293.5" y2="351.66" stroke="#1e1b1c" stroke-width="1"/>
<text x="280.06" y="354.56" font-size="6.3" textLength="7.01" lengthAdjust="spacingAndGlyphs" class="tk">80</text>
<line x1="290.1" y1="334.5" x2="293.5" y2="334.5" stroke="#1e1b1c" stroke-width="1"/>
<text x="276.53" y="337.4" font-size="6.3" textLength="10.51" lengthAdjust="spacingAndGlyphs" class="tk">100</text>
<line x1="303" y1="420.3" x2="303" y2="423.6" stroke="#1e1b1c" stroke-width="1"/>
<line x1="325.2" y1="420.3" x2="325.2" y2="423.6" stroke="#1e1b1c" stroke-width="1"/>
<line x1="347.4" y1="420.3" x2="347.4" y2="423.6" stroke="#1e1b1c" stroke-width="1"/>
<line x1="369.6" y1="420.3" x2="369.6" y2="423.6" stroke="#1e1b1c" stroke-width="1"/>
<line x1="391.8" y1="420.3" x2="391.8" y2="423.6" stroke="#1e1b1c" stroke-width="1"/>
<line x1="414" y1="420.3" x2="414" y2="423.6" stroke="#1e1b1c" stroke-width="1"/>
<text x="306.6" y="429.6" font-size="6.3" text-anchor="end" textLength="23" lengthAdjust="spacingAndGlyphs" transform="rotate(-45 306.6 429.6)" class="lt">medium</text>
<text x="330" y="431.1" font-size="6.3" text-anchor="end" textLength="20" lengthAdjust="spacingAndGlyphs" transform="rotate(-45 330 431.1)" class="lt">JEKO-1</text>
<text x="352" y="430.6" font-size="6.3" text-anchor="end" textLength="19.5" lengthAdjust="spacingAndGlyphs" transform="rotate(-45 352 430.6)" class="lt">HUT78</text>
<text x="374" y="430.7" font-size="6.3" text-anchor="end" textLength="15.5" lengthAdjust="spacingAndGlyphs" transform="rotate(-45 374 430.7)" class="lt">FEDP</text>
<text x="396.2" y="431.1" font-size="6.3" text-anchor="end" textLength="42" lengthAdjust="spacingAndGlyphs" transform="rotate(-45 396.2 431.1)" class="lt">CBTL-81777-V2</text>
<text x="418.4" y="430.6" font-size="6.3" text-anchor="end" textLength="13" lengthAdjust="spacingAndGlyphs" transform="rotate(-45 418.4 430.6)" class="lt">PMA</text>
<text x="269.3" y="419.87" font-size="8.6" textLength="87.88" lengthAdjust="spacingAndGlyphs" transform="rotate(-90 269.3 419.87)">Relative CD107+ IFNγ+</text>
<rect x="301.8" y="324.7" width="9.2" height="4.9" fill="#a5002a"/>
<text x="313.99" y="329.53" font-size="6.57" textLength="13.1" lengthAdjust="spacingAndGlyphs" class="lt">UTD</text>
<rect x="335.1" y="324.7" width="9.5" height="4.9" fill="#2d4a7d"/>
<text x="347.6" y="329.54" font-size="6.48" textLength="30.6" lengthAdjust="spacingAndGlyphs" class="lt">CAR37 H-L</text>
<line x1="54.4" y1="512.3" x2="54.4" y2="597.08" stroke="#1e1b1c" stroke-width="1.2"/>
<line x1="53.8" y1="596.48" x2="176.7" y2="596.48" stroke="#1e1b1c" stroke-width="1.2"/>
<line x1="50.9" y1="515.36" x2="54.4" y2="515.36" stroke="#1e1b1c" stroke-width="1"/>
<text x="41.25" y="517.76" font-size="6.8" textLength="6.81" lengthAdjust="spacingAndGlyphs" class="tk">60</text>
<line x1="50.9" y1="535.64" x2="54.4" y2="535.64" stroke="#1e1b1c" stroke-width="1"/>
<text x="41.25" y="538.04" font-size="6.8" textLength="6.81" lengthAdjust="spacingAndGlyphs" class="tk">40</text>
<line x1="50.9" y1="555.92" x2="54.4" y2="555.92" stroke="#1e1b1c" stroke-width="1"/>
<text x="41.25" y="558.32" font-size="6.8" textLength="6.81" lengthAdjust="spacingAndGlyphs" class="tk">20</text>
<line x1="50.9" y1="576.2" x2="54.4" y2="576.2" stroke="#1e1b1c" stroke-width="1"/>
<text x="44.62" y="578.6" font-size="6.8" textLength="3.4" lengthAdjust="spacingAndGlyphs" class="tk">0</text>
<line x1="50.9" y1="596.48" x2="54.4" y2="596.48" stroke="#1e1b1c" stroke-width="1"/>
<text x="39.17" y="598.88" font-size="6.8" textLength="8.85" lengthAdjust="spacingAndGlyphs" class="tk">-20</text>
<line x1="69.5" y1="596.48" x2="69.5" y2="599.78" stroke="#1e1b1c" stroke-width="1"/>
<line x1="92.5" y1="596.48" x2="92.5" y2="599.78" stroke="#1e1b1c" stroke-width="1"/>
<line x1="115.4" y1="596.48" x2="115.4" y2="599.78" stroke="#1e1b1c" stroke-width="1"/>
<line x1="138.4" y1="596.48" x2="138.4" y2="599.78" stroke="#1e1b1c" stroke-width="1"/>
<line x1="161.3" y1="596.48" x2="161.3" y2="599.78" stroke="#1e1b1c" stroke-width="1"/>
<text x="62.94" y="610.8" font-size="6.8" textLength="12.84" lengthAdjust="spacingAndGlyphs" class="tk">1:10</text>
<text x="87.78" y="610.8" font-size="6.8" textLength="9.17" lengthAdjust="spacingAndGlyphs" class="tk">1:3</text>
<text x="110.72" y="610.8" font-size="6.8" textLength="9.17" lengthAdjust="spacingAndGlyphs" class="tk">1:1</text>
<text x="133.85" y="610.8" font-size="6.8" textLength="9.17" lengthAdjust="spacingAndGlyphs" class="tk">3:1</text>
<text x="154.77" y="610.8" font-size="6.8" textLength="12.84" lengthAdjust="spacingAndGlyphs" class="tk">10:1</text>
<polyline points="69.5,579.44 92.5,577.62 115.4,573.46 138.4,575.29 161.3,569.51" fill="none" stroke="#a5002a" stroke-width="1.7" stroke-dasharray="4.7,2.9" stroke-dashoffset="5.3"/>
<polyline points="69.5,576 92.5,575.29 115.4,565.45 138.4,550.55 161.3,529.35" fill="none" stroke="#233f7a" stroke-width="1.7"/>
<line x1="69.5" y1="578.44" x2="69.5" y2="580.44" stroke="#a5002a" stroke-width="0.9"/>
<line x1="67.7" y1="578.44" x2="71.3" y2="578.44" stroke="#a5002a" stroke-width="0.9"/>
<line x1="67.7" y1="580.44" x2="71.3" y2="580.44" stroke="#a5002a" stroke-width="0.9"/>
<circle cx="69.5" cy="579.44" r="1.7" fill="#a5002a"/>
<line x1="92.5" y1="575.62" x2="92.5" y2="579.62" stroke="#a5002a" stroke-width="0.9"/>
<line x1="90.7" y1="575.62" x2="94.3" y2="575.62" stroke="#a5002a" stroke-width="0.9"/>
<line x1="90.7" y1="579.62" x2="94.3" y2="579.62" stroke="#a5002a" stroke-width="0.9"/>
<circle cx="92.5" cy="577.62" r="1.7" fill="#a5002a"/>
<line x1="115.4" y1="571.46" x2="115.4" y2="575.46" stroke="#a5002a" stroke-width="0.9"/>
<line x1="113.6" y1="571.46" x2="117.2" y2="571.46" stroke="#a5002a" stroke-width="0.9"/>
<line x1="113.6" y1="575.46" x2="117.2" y2="575.46" stroke="#a5002a" stroke-width="0.9"/>
<circle cx="115.4" cy="573.46" r="1.7" fill="#a5002a"/>
<line x1="138.4" y1="572.29" x2="138.4" y2="578.29" stroke="#a5002a" stroke-width="0.9"/>
<line x1="136.6" y1="572.29" x2="140.2" y2="572.29" stroke="#a5002a" stroke-width="0.9"/>
<line x1="136.6" y1="578.29" x2="140.2" y2="578.29" stroke="#a5002a" stroke-width="0.9"/>
<circle cx="138.4" cy="575.29" r="1.7" fill="#a5002a"/>
<line x1="161.3" y1="565.31" x2="161.3" y2="573.71" stroke="#a5002a" stroke-width="0.9"/>
<line x1="159.5" y1="565.31" x2="163.1" y2="565.31" stroke="#a5002a" stroke-width="0.9"/>
<line x1="159.5" y1="573.71" x2="163.1" y2="573.71" stroke="#a5002a" stroke-width="0.9"/>
<circle cx="161.3" cy="569.51" r="1.7" fill="#a5002a"/>
<line x1="69.5" y1="572.7" x2="69.5" y2="579.3" stroke="#2d4a7d" stroke-width="0.9"/>
<line x1="67.7" y1="572.7" x2="71.3" y2="572.7" stroke="#2d4a7d" stroke-width="0.9"/>
<line x1="67.7" y1="579.3" x2="71.3" y2="579.3" stroke="#2d4a7d" stroke-width="0.9"/>
<rect x="67.8" y="574.3" width="3.4" height="3.4" fill="#2d4a7d"/>
<line x1="92.5" y1="571.79" x2="92.5" y2="578.79" stroke="#2d4a7d" stroke-width="0.9"/>
<line x1="90.7" y1="571.79" x2="94.3" y2="571.79" stroke="#2d4a7d" stroke-width="0.9"/>
<line x1="90.7" y1="578.79" x2="94.3" y2="578.79" stroke="#2d4a7d" stroke-width="0.9"/>
<rect x="90.8" y="573.59" width="3.4" height="3.4" fill="#2d4a7d"/>
<line x1="115.4" y1="563.45" x2="115.4" y2="567.45" stroke="#2d4a7d" stroke-width="0.9"/>
<line x1="113.6" y1="563.45" x2="117.2" y2="563.45" stroke="#2d4a7d" stroke-width="0.9"/>
<line x1="113.6" y1="567.45" x2="117.2" y2="567.45" stroke="#2d4a7d" stroke-width="0.9"/>
<rect x="113.7" y="563.75" width="3.4" height="3.4" fill="#2d4a7d"/>
<line x1="138.4" y1="548.55" x2="138.4" y2="552.55" stroke="#2d4a7d" stroke-width="0.9"/>
<line x1="136.6" y1="548.55" x2="140.2" y2="548.55" stroke="#2d4a7d" stroke-width="0.9"/>
<line x1="136.6" y1="552.55" x2="140.2" y2="552.55" stroke="#2d4a7d" stroke-width="0.9"/>
<rect x="136.7" y="548.85" width="3.4" height="3.4" fill="#2d4a7d"/>
<line x1="161.3" y1="526.35" x2="161.3" y2="532.35" stroke="#2d4a7d" stroke-width="0.9"/>
<line x1="159.5" y1="526.35" x2="163.1" y2="526.35" stroke="#2d4a7d" stroke-width="0.9"/>
<line x1="159.5" y1="532.35" x2="163.1" y2="532.35" stroke="#2d4a7d" stroke-width="0.9"/>
<rect x="159.6" y="527.65" width="3.4" height="3.4" fill="#2d4a7d"/>
<line x1="177.1" y1="521.1" x2="186" y2="521.1" stroke="#a5002a" stroke-width="1.5" stroke-dasharray="3.9,1.6,1.5,1.4"/>
<circle cx="182" cy="521.1" r="1.6" fill="#a5002a"/>
<line x1="177.1" y1="534.2" x2="186" y2="534.2" stroke="#2d4a7d" stroke-width="1.5"/>
<rect x="180.4" y="532.7" width="3" height="3" fill="#2d4a7d"/>
<text x="188.67" y="523.53" font-size="6.57" textLength="13.52" lengthAdjust="spacingAndGlyphs" class="lt">UTD</text>
<text x="188.9" y="536.84" font-size="6.48" textLength="30.49" lengthAdjust="spacingAndGlyphs" class="lt">CAR37 H-L</text>
<text x="102.43" y="506.41" font-size="8.87" textLength="26.36" lengthAdjust="spacingAndGlyphs">HUT78</text>
<text x="109.3" y="624.5" font-size="8.99" textLength="11.7" lengthAdjust="spacingAndGlyphs">E:T</text>
<text x="34.8" y="582.94" font-size="8.8" textLength="56.62" lengthAdjust="spacingAndGlyphs" transform="rotate(-90 34.8 582.94)">% specific lysis</text>
<line x1="293.3" y1="512.3" x2="293.3" y2="597.08" stroke="#1e1b1c" stroke-width="1.2"/>
<line x1="292.7" y1="596.48" x2="416" y2="596.48" stroke="#1e1b1c" stroke-width="1.2"/>
<line x1="289.8" y1="515.36" x2="293.3" y2="515.36" stroke="#1e1b1c" stroke-width="1"/>
<text x="280.15" y="517.76" font-size="6.8" textLength="6.81" lengthAdjust="spacingAndGlyphs" class="tk">60</text>
<line x1="289.8" y1="535.64" x2="293.3" y2="535.64" stroke="#1e1b1c" stroke-width="1"/>
<text x="280.15" y="538.04" font-size="6.8" textLength="6.81" lengthAdjust="spacingAndGlyphs" class="tk">40</text>
<line x1="289.8" y1="555.92" x2="293.3" y2="555.92" stroke="#1e1b1c" stroke-width="1"/>
<text x="280.15" y="558.32" font-size="6.8" textLength="6.81" lengthAdjust="spacingAndGlyphs" class="tk">20</text>
<line x1="289.8" y1="576.2" x2="293.3" y2="576.2" stroke="#1e1b1c" stroke-width="1"/>
<text x="283.52" y="578.6" font-size="6.8" textLength="3.4" lengthAdjust="spacingAndGlyphs" class="tk">0</text>
<line x1="289.8" y1="596.48" x2="293.3" y2="596.48" stroke="#1e1b1c" stroke-width="1"/>
<text x="278.07" y="598.88" font-size="6.8" textLength="8.85" lengthAdjust="spacingAndGlyphs" class="tk">-20</text>
<line x1="308.8" y1="596.48" x2="308.8" y2="599.78" stroke="#1e1b1c" stroke-width="1"/>
<line x1="331.6" y1="596.48" x2="331.6" y2="599.78" stroke="#1e1b1c" stroke-width="1"/>
<line x1="354.5" y1="596.48" x2="354.5" y2="599.78" stroke="#1e1b1c" stroke-width="1"/>
<line x1="377.5" y1="596.48" x2="377.5" y2="599.78" stroke="#1e1b1c" stroke-width="1"/>
<line x1="400.5" y1="596.48" x2="400.5" y2="599.78" stroke="#1e1b1c" stroke-width="1"/>
<text x="302.24" y="610.8" font-size="6.8" textLength="12.84" lengthAdjust="spacingAndGlyphs" class="tk">1:10</text>
<text x="326.88" y="610.8" font-size="6.8" textLength="9.17" lengthAdjust="spacingAndGlyphs" class="tk">1:3</text>
<text x="349.82" y="610.8" font-size="6.8" textLength="9.17" lengthAdjust="spacingAndGlyphs" class="tk">1:1</text>
<text x="372.95" y="610.8" font-size="6.8" textLength="9.17" lengthAdjust="spacingAndGlyphs" class="tk">3:1</text>
<polyline points="308.8,562.71 331.6,562.21 354.5,571.94 377.5,576.5 400.5,581.17" fill="none" stroke="#a5002a" stroke-width="1.7" stroke-dasharray="4.7,2.9" stroke-dashoffset="5.3"/>
<polyline points="308.8,580.46 331.6,577.21 354.5,570.32 377.5,555.92 400.5,529.76" fill="none" stroke="#233f7a" stroke-width="1.7"/>
<line x1="308.8" y1="560.71" x2="308.8" y2="564.71" stroke="#a5002a" stroke-width="0.9"/>
<line x1="307" y1="560.71" x2="310.6" y2="560.71" stroke="#a5002a" stroke-width="0.9"/>
<line x1="307" y1="564.71" x2="310.6" y2="564.71" stroke="#a5002a" stroke-width="0.9"/>
<circle cx="308.8" cy="562.71" r="1.7" fill="#a5002a"/>
<line x1="331.6" y1="558.61" x2="331.6" y2="565.81" stroke="#a5002a" stroke-width="0.9"/>
<line x1="329.8" y1="558.61" x2="333.4" y2="558.61" stroke="#a5002a" stroke-width="0.9"/>
<line x1="329.8" y1="565.81" x2="333.4" y2="565.81" stroke="#a5002a" stroke-width="0.9"/>
<circle cx="331.6" cy="562.21" r="1.7" fill="#a5002a"/>
<line x1="354.5" y1="569.94" x2="354.5" y2="573.94" stroke="#a5002a" stroke-width="0.9"/>
<line x1="352.7" y1="569.94" x2="356.3" y2="569.94" stroke="#a5002a" stroke-width="0.9"/>
<line x1="352.7" y1="573.94" x2="356.3" y2="573.94" stroke="#a5002a" stroke-width="0.9"/>
<circle cx="354.5" cy="571.94" r="1.7" fill="#a5002a"/>
<line x1="377.5" y1="575.5" x2="377.5" y2="577.5" stroke="#a5002a" stroke-width="0.9"/>
<line x1="375.7" y1="575.5" x2="379.3" y2="575.5" stroke="#a5002a" stroke-width="0.9"/>
<line x1="375.7" y1="577.5" x2="379.3" y2="577.5" stroke="#a5002a" stroke-width="0.9"/>
<circle cx="377.5" cy="576.5" r="1.7" fill="#a5002a"/>
<line x1="400.5" y1="578.67" x2="400.5" y2="583.67" stroke="#a5002a" stroke-width="0.9"/>
<line x1="398.7" y1="578.67" x2="402.3" y2="578.67" stroke="#a5002a" stroke-width="0.9"/>
<line x1="398.7" y1="583.67" x2="402.3" y2="583.67" stroke="#a5002a" stroke-width="0.9"/>
<circle cx="400.5" cy="581.17" r="1.7" fill="#a5002a"/>
<line x1="308.8" y1="576.46" x2="308.8" y2="584.46" stroke="#2d4a7d" stroke-width="0.9"/>
<line x1="307" y1="576.46" x2="310.6" y2="576.46" stroke="#2d4a7d" stroke-width="0.9"/>
<line x1="307" y1="584.46" x2="310.6" y2="584.46" stroke="#2d4a7d" stroke-width="0.9"/>
<rect x="307.1" y="578.76" width="3.4" height="3.4" fill="#2d4a7d"/>
<line x1="331.6" y1="573.61" x2="331.6" y2="580.81" stroke="#2d4a7d" stroke-width="0.9"/>
<line x1="329.8" y1="573.61" x2="333.4" y2="573.61" stroke="#2d4a7d" stroke-width="0.9"/>
<line x1="329.8" y1="580.81" x2="333.4" y2="580.81" stroke="#2d4a7d" stroke-width="0.9"/>
<rect x="329.9" y="575.51" width="3.4" height="3.4" fill="#2d4a7d"/>
<line x1="354.5" y1="567.82" x2="354.5" y2="572.82" stroke="#2d4a7d" stroke-width="0.9"/>
<line x1="352.7" y1="567.82" x2="356.3" y2="567.82" stroke="#2d4a7d" stroke-width="0.9"/>
<line x1="352.7" y1="572.82" x2="356.3" y2="572.82" stroke="#2d4a7d" stroke-width="0.9"/>
<rect x="352.8" y="568.62" width="3.4" height="3.4" fill="#2d4a7d"/>
<line x1="377.5" y1="551.92" x2="377.5" y2="559.92" stroke="#2d4a7d" stroke-width="0.9"/>
<line x1="375.7" y1="551.92" x2="379.3" y2="551.92" stroke="#2d4a7d" stroke-width="0.9"/>
<line x1="375.7" y1="559.92" x2="379.3" y2="559.92" stroke="#2d4a7d" stroke-width="0.9"/>
<rect x="375.8" y="554.22" width="3.4" height="3.4" fill="#2d4a7d"/>
<line x1="400.5" y1="527.26" x2="400.5" y2="532.26" stroke="#2d4a7d" stroke-width="0.9"/>
<line x1="398.7" y1="527.26" x2="402.3" y2="527.26" stroke="#2d4a7d" stroke-width="0.9"/>
<line x1="398.7" y1="532.26" x2="402.3" y2="532.26" stroke="#2d4a7d" stroke-width="0.9"/>
<rect x="398.8" y="528.06" width="3.4" height="3.4" fill="#2d4a7d"/>
<line x1="415.4" y1="521.1" x2="424.3" y2="521.1" stroke="#a5002a" stroke-width="1.5" stroke-dasharray="3.9,1.6,1.5,1.4"/>
<circle cx="420.3" cy="521.1" r="1.6" fill="#a5002a"/>
<line x1="415.4" y1="534.2" x2="424.3" y2="534.2" stroke="#2d4a7d" stroke-width="1.5"/>
<rect x="418.7" y="532.7" width="3" height="3" fill="#2d4a7d"/>
<text x="426.97" y="523.53" font-size="6.57" textLength="13.52" lengthAdjust="spacingAndGlyphs" class="lt">UTD</text>
<text x="427.2" y="536.84" font-size="6.48" textLength="30.49" lengthAdjust="spacingAndGlyphs" class="lt">CAR37 H-L</text>
<text x="344.38" y="506.6" font-size="9.28" textLength="20.58" lengthAdjust="spacingAndGlyphs">FEPD</text>
<text x="349.01" y="624.5" font-size="8.99" textLength="11.48" lengthAdjust="spacingAndGlyphs">E:T</text>
<text x="273.8" y="582.94" font-size="8.8" textLength="56.62" lengthAdjust="spacingAndGlyphs" transform="rotate(-90 273.8 582.94)">% specific lysis</text>
</g>
<rect x="0.75" y="0.75" width="518.5" height="633.5" fill="none" stroke="#141414" stroke-width="1.5"/>
</svg>
</body></html>
